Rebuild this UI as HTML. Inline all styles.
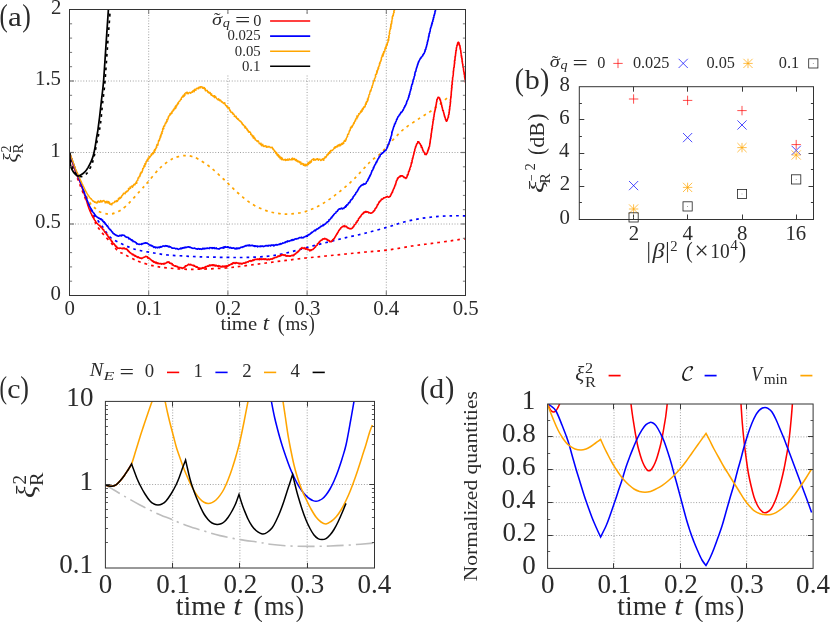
<!DOCTYPE html>
<html lang="en"><head><meta charset="utf-8"><title>Figure</title>
<style>html,body{margin:0;padding:0;background:#fff}svg{display:block;will-change:transform}</style>
</head><body>
<svg width="830" height="622" viewBox="0 0 830 622" font-family='"Liberation Serif", "DejaVu Serif", serif'>
<rect width="830" height="622" fill="#fff"/>
<defs>
<clipPath id="ca"><rect x="69.5" y="9.5" width="396.0" height="286.0"/></clipPath>
<clipPath id="cb"><rect x="579.3" y="86.7" width="234.2" height="132.8"/></clipPath>
<clipPath id="cc"><rect x="105.4" y="401.4" width="269.1" height="166.6"/></clipPath>
<clipPath id="cd"><rect x="547.6" y="404.0" width="265.5" height="164.4"/></clipPath>
</defs>
<line x1="148.7" y1="9.5" x2="148.7" y2="295.5" stroke="#a0a0a0" stroke-width="1" stroke-dasharray="1 1.75"/>
<line x1="227.9" y1="9.5" x2="227.9" y2="295.5" stroke="#a0a0a0" stroke-width="1" stroke-dasharray="1 1.75"/>
<line x1="307.1" y1="9.5" x2="307.1" y2="295.5" stroke="#a0a0a0" stroke-width="1" stroke-dasharray="1 1.75"/>
<line x1="386.3" y1="9.5" x2="386.3" y2="295.5" stroke="#a0a0a0" stroke-width="1" stroke-dasharray="1 1.75"/>
<line x1="69.5" y1="224.0" x2="465.5" y2="224.0" stroke="#a0a0a0" stroke-width="1" stroke-dasharray="1 1.75"/>
<line x1="69.5" y1="152.5" x2="465.5" y2="152.5" stroke="#a0a0a0" stroke-width="1" stroke-dasharray="1 1.75"/>
<line x1="69.5" y1="81.0" x2="465.5" y2="81.0" stroke="#a0a0a0" stroke-width="1" stroke-dasharray="1 1.75"/>
<rect x="200" y="13.8" width="180" height="60.2" fill="#fff"/>
<path d="M69.5 152.5C69.9 153.9 70.9 157.4 72.0 161.0C73.1 164.6 74.7 170.0 76.0 174.0C77.3 178.0 78.3 180.7 80.0 185.0C81.7 189.3 84.0 195.3 86.0 200.0C88.0 204.7 90.3 209.0 92.0 213.0C93.7 217.0 94.7 221.2 96.0 224.0C97.3 226.8 98.7 228.2 100.0 230.0C101.3 231.8 102.0 232.7 104.0 235.0C106.0 237.3 109.7 241.3 112.0 244.0C114.3 246.7 116.0 249.3 118.0 251.0C120.0 252.7 121.7 252.8 124.0 254.0C126.3 255.2 129.3 257.2 132.0 258.5C134.7 259.8 136.3 260.8 140.0 262.0C143.7 263.2 149.3 265.0 154.0 266.0C158.7 267.0 163.0 267.5 168.0 268.0C173.0 268.5 178.7 269.0 184.0 269.2C189.3 269.4 193.0 269.4 200.0 269.2C207.0 269.0 218.3 268.6 226.0 268.0C233.7 267.4 239.3 266.4 246.0 265.6C252.7 264.8 259.3 263.9 266.0 263.0C272.7 262.1 279.3 261.2 286.0 260.4C292.7 259.6 299.3 258.7 306.0 258.0C312.7 257.3 319.3 256.7 326.0 256.0C332.7 255.3 339.3 254.7 346.0 254.0C352.7 253.3 359.0 252.7 366.0 252.0C373.0 251.3 380.3 251.0 388.0 250.0C395.7 249.0 404.7 247.1 412.0 246.0C419.3 244.9 425.3 244.3 432.0 243.4C438.7 242.5 446.4 241.4 452.0 240.6C457.6 239.8 463.2 238.9 465.5 238.6" fill="none" stroke="#ff0000" stroke-width="1.7" stroke-linejoin="round" stroke-miterlimit="6" stroke-dasharray="2.7 4" clip-path="url(#ca)" />
<path d="M69.5 152.5C69.9 153.8 70.9 156.8 72.0 160.0C73.1 163.2 74.7 168.3 76.0 172.0C77.3 175.7 78.3 177.7 80.0 182.0C81.7 186.3 84.0 193.2 86.0 198.0C88.0 202.8 90.3 207.7 92.0 211.0C93.7 214.3 94.3 215.5 96.0 218.0C97.7 220.5 99.7 222.8 102.0 226.0C104.3 229.2 107.0 234.2 110.0 237.0C113.0 239.8 116.7 241.2 120.0 243.0C123.3 244.8 126.7 246.2 130.0 247.5C133.3 248.8 136.0 249.6 140.0 250.5C144.0 251.4 149.3 252.2 154.0 253.0C158.7 253.8 163.0 254.5 168.0 255.0C173.0 255.5 178.7 255.7 184.0 256.0C189.3 256.3 193.0 256.6 200.0 256.8C207.0 257.0 218.3 257.3 226.0 257.4C233.7 257.5 239.3 257.6 246.0 257.4C252.7 257.2 260.0 257.0 266.0 256.4C272.0 255.8 276.7 255.1 282.0 254.0C287.3 252.9 292.7 251.4 298.0 250.0C303.3 248.6 308.7 247.0 314.0 245.6C319.3 244.2 324.7 242.9 330.0 241.6C335.3 240.3 340.0 239.0 346.0 237.6C352.0 236.2 359.0 234.8 366.0 233.0C373.0 231.2 381.7 228.8 388.0 227.0C394.3 225.2 398.7 223.4 404.0 222.0C409.3 220.6 414.7 219.5 420.0 218.6C425.3 217.7 430.7 217.1 436.0 216.6C441.3 216.1 447.1 215.9 452.0 215.8C456.9 215.7 463.2 215.8 465.5 215.8" fill="none" stroke="#0000ff" stroke-width="1.7" stroke-linejoin="round" stroke-miterlimit="6" stroke-dasharray="2.7 4" clip-path="url(#ca)" />
<path d="M69.5 152.5C69.9 153.8 70.9 156.9 72.0 160.0C73.1 163.1 74.7 167.5 76.0 171.0C77.3 174.5 78.7 177.7 80.0 181.0C81.3 184.3 82.3 187.3 84.0 191.0C85.7 194.7 88.0 200.0 90.0 203.0C92.0 206.0 94.3 207.5 96.0 209.0C97.7 210.5 98.0 211.2 100.0 212.0C102.0 212.8 105.3 213.9 108.0 214.0C110.7 214.1 113.0 213.9 116.0 212.6C119.0 211.3 122.0 209.6 126.0 206.0C130.0 202.4 136.3 195.0 140.0 191.0C143.7 187.0 144.7 185.8 148.0 182.0C151.3 178.2 156.0 171.8 160.0 168.0C164.0 164.2 168.7 160.9 172.0 159.0C175.3 157.1 177.7 156.9 180.0 156.3C182.3 155.7 184.0 155.6 186.0 155.6C188.0 155.6 190.0 155.9 192.0 156.5C194.0 157.1 195.0 157.2 198.0 159.0C201.0 160.8 205.7 163.6 210.0 167.0C214.3 170.4 219.3 175.2 224.0 179.5C228.7 183.8 233.3 188.9 238.0 193.0C242.7 197.1 247.3 201.1 252.0 204.0C256.7 206.9 261.7 209.0 266.0 210.6C270.3 212.2 274.0 212.8 278.0 213.4C282.0 214.0 285.3 214.3 290.0 214.0C294.7 213.7 300.7 213.1 306.0 211.4C311.3 209.7 316.7 207.1 322.0 204.0C327.3 200.9 332.7 197.2 338.0 193.0C343.3 188.8 348.7 184.2 354.0 179.0C359.3 173.8 365.7 166.2 370.0 162.0C374.3 157.8 376.3 157.5 380.0 154.0C383.7 150.5 388.0 145.2 392.0 141.0C396.0 136.8 399.3 132.8 404.0 129.0C408.7 125.2 415.0 121.3 420.0 118.0C425.0 114.7 429.5 112.3 434.0 109.0C438.5 105.7 444.8 99.8 447.0 98.0" fill="none" stroke="#ffa500" stroke-width="1.7" stroke-linejoin="round" stroke-miterlimit="6" stroke-dasharray="2.7 4" clip-path="url(#ca)" />
<polyline points="69.5,152.5 69.6,152.8 69.7,152.9 69.7,153.4 69.8,153.6 70.0,154.0 70.1,154.4 70.2,154.8 70.3,155.4 70.4,155.8 70.6,156.1 70.7,156.8 70.8,157.1 71.1,157.8 71.2,158.4 71.4,159.0 71.5,159.5 71.7,160.0 71.9,160.3 72.0,160.9 72.2,161.4 72.3,161.7 72.4,162.1 72.5,162.6 72.6,163.1 72.8,163.5 72.9,164.0 73.1,164.2 73.2,164.8 73.4,165.2 73.5,165.5 73.6,166.1 73.7,166.4 73.9,167.1 74.0,167.5 74.2,167.8 74.3,168.4 74.6,168.7 74.7,169.1 74.8,169.6 75.0,170.3 75.1,170.7 75.2,170.9 75.4,171.3 75.5,171.8 75.7,172.1 75.8,172.7 76.0,173.1 76.2,173.4 76.4,173.9 76.6,174.4 76.7,174.8 77.0,175.2 77.1,175.6 77.2,175.9 77.5,176.3 77.6,176.5 77.8,177.0 77.9,177.4 78.2,177.6 78.3,178.1 78.5,178.5 78.7,179.0 78.9,179.2 79.1,180.0 79.3,180.3 79.6,180.8 79.8,181.3 80.0,182.0 80.1,182.3 80.3,182.5 80.4,183.1 80.5,183.3 80.7,183.7 80.8,184.1 81.0,184.4 81.1,184.9 81.3,185.4 81.4,185.7 81.5,186.3 81.8,186.7 81.8,187.0 82.0,187.5 82.2,188.1 82.3,188.4 82.6,189.0 82.7,189.3 82.8,189.8 83.0,190.2 83.1,190.8 83.3,191.2 83.5,191.6 83.6,192.3 83.9,192.8 84.0,193.2 84.2,193.5 84.3,194.1 84.5,194.5 84.6,194.9 84.7,195.2 84.9,195.7 85.1,196.1 85.2,196.7 85.4,197.2 85.5,197.5 85.6,197.9 85.7,198.2 85.9,198.6 86.0,199.1 86.2,199.5 86.3,200.1 86.5,200.6 86.6,200.9 86.8,201.6 86.9,202.0 87.1,202.5 87.3,202.7 87.4,203.4 87.4,203.6 87.6,204.1 87.7,204.5 87.9,204.8 87.9,205.3 88.1,205.7 88.3,206.3 88.3,206.6 88.5,206.9 88.6,207.4 88.8,207.7 88.9,208.1 89.0,208.6 89.2,208.9 89.3,209.3 89.5,209.8 89.7,210.1 89.9,210.6 90.0,211.0 90.2,211.5 90.4,211.9 90.6,212.2 90.8,212.8 90.9,213.1 91.2,213.7 91.5,214.0 91.7,214.6 91.8,214.9 92.0,215.5 92.3,215.9 92.6,216.3 92.8,216.7 92.9,217.1 93.2,217.4 93.5,217.8 93.6,218.2 94.0,218.6 94.1,219.2 94.3,219.6 94.6,220.0 94.9,220.3 95.1,220.5 95.4,221.0 95.6,221.2 95.8,221.8 95.9,221.9 96.3,222.6 96.6,222.8 97.0,223.3 97.4,223.6 97.7,223.9 98.0,224.3 98.3,224.6 98.7,224.9 99.0,225.1 99.4,225.5 99.7,225.8 100.0,226.1 100.5,226.0 100.5,226.9 101.2,227.0 101.3,227.5 101.5,227.4 101.9,228.1 102.2,228.1 102.6,229.1 102.7,229.2 103.1,229.7 103.4,229.5 103.6,229.6 103.9,230.3 104.1,230.7 104.4,231.5 104.6,232.0 105.1,232.0 105.3,232.7 105.7,232.8 105.9,233.3 106.3,233.4 106.5,234.3 106.7,233.9 106.9,234.8 107.3,235.4 107.6,235.0 107.6,235.4 107.9,236.2 108.4,236.8 108.5,237.2 108.8,237.1 109.2,237.2 109.2,238.3 109.6,238.2 109.9,238.9 110.0,239.0 110.4,239.5 110.6,240.0 111.1,240.1 111.2,240.2 111.4,241.1 111.6,241.7 112.1,241.3 112.4,241.9 112.6,242.6 112.7,242.9 113.1,243.3 113.2,243.7 113.9,244.0 114.0,243.8 114.4,244.4 114.8,245.2 115.1,245.0 115.4,245.9 115.6,246.5 116.1,246.1 116.6,246.4 116.7,247.3 117.1,247.4 117.4,247.5 117.6,247.5 117.8,248.2 118.6,248.3 119.2,248.3 119.5,248.4 120.2,248.0 120.5,248.2 121.1,248.2 121.4,248.3 122.0,248.7 122.4,248.8 122.8,248.2 123.3,248.0 124.0,248.6 124.2,248.1 124.8,248.8 125.5,249.0 126.0,248.6 126.3,248.9 126.6,249.5 126.8,249.4 127.3,249.4 127.7,250.6 128.1,250.4 128.2,250.9 128.6,251.6 129.0,251.3 129.4,251.8 129.7,252.4 129.8,252.7 130.5,252.8 130.8,253.1 131.1,253.5 131.4,253.7 132.1,253.9 132.4,254.7 132.9,254.1 133.3,254.9 133.4,254.8 134.0,254.8 134.5,255.9 134.9,256.1 135.5,255.6 136.0,256.3 136.5,256.7 136.9,256.5 137.4,257.3 137.8,257.0 138.2,257.3 138.4,257.0 138.8,257.3 139.2,257.8 139.8,257.9 140.0,258.1 140.6,258.1 141.4,258.1 141.7,258.6 142.4,258.0 142.7,258.0 143.2,257.5 143.4,257.4 144.1,257.2 144.5,257.1 144.8,256.9 145.3,256.6 145.6,256.4 146.1,256.8 146.8,256.5 147.3,257.0 147.6,256.9 147.8,257.4 148.0,258.2 148.4,257.6 148.9,257.9 149.3,258.4 149.5,258.4 150.1,259.0 150.5,259.5 150.9,259.6 151.1,259.9 151.7,260.6 151.9,260.3 152.5,261.5 152.8,260.8 153.0,261.2 153.5,261.3 153.8,262.2 154.6,261.9 155.1,262.3 155.4,263.0 156.0,262.2 156.2,263.0 156.9,262.6 157.1,263.5 157.6,263.1 158.1,263.6 158.8,263.2 159.2,263.8 159.7,263.7 160.2,263.6 160.4,263.5 161.0,263.9 161.2,263.6 161.7,264.1 162.1,263.9 162.6,263.7 163.3,263.5 163.7,264.1 164.2,263.3 164.4,263.9 164.9,263.8 165.4,263.2 165.8,263.3 165.9,262.9 166.3,262.7 167.1,262.2 167.3,262.0 167.6,262.4 168.2,261.8 168.9,262.5 169.3,262.0 169.5,263.1 169.9,262.9 170.4,263.4 170.8,263.6 171.2,263.3 171.5,263.4 172.2,263.7 172.3,264.9 172.9,265.1 173.3,264.9 173.8,265.6 174.4,265.7 174.9,266.2 175.1,266.1 175.6,265.8 176.1,266.5 176.6,266.3 177.0,266.8 177.6,266.6 177.9,267.2 178.3,267.4 179.0,267.4 179.5,267.7 179.8,267.6 180.5,267.7 180.7,267.5 181.1,267.6 181.8,268.2 182.1,268.5 182.6,268.4 183.0,267.7 183.7,268.0 184.1,267.3 184.4,267.0 184.9,267.2 185.1,266.9 185.4,265.8 186.1,265.8 186.4,265.9 186.7,265.8 187.2,265.2 187.6,265.3 188.2,264.6 188.4,264.4 188.9,264.1 189.3,264.7 190.1,264.9 190.6,264.8 190.7,264.2 191.1,264.6 191.6,264.9 192.0,265.3 192.4,265.2 193.1,265.7 193.3,265.4 194.0,265.3 194.2,266.1 194.8,265.9 195.0,266.2 195.7,266.6 196.2,267.1 196.7,266.5 196.8,266.7 197.4,267.2 197.7,267.6 198.1,267.6 198.6,268.3 199.1,267.9 199.4,268.2 200.1,268.5 200.7,268.7 200.9,268.0 201.5,268.7 201.8,268.6 202.3,268.0 202.5,267.6 203.2,268.3 203.7,267.7 204.1,268.0 204.6,267.5 204.9,267.2 205.2,266.7 205.8,267.3 206.2,266.6 206.5,266.5 207.1,266.4 207.7,265.9 207.9,266.1 208.3,266.3 208.9,266.2 209.3,265.1 209.7,265.5 210.1,265.1 210.6,265.6 210.8,265.3 211.4,265.0 212.2,265.5 212.5,264.7 213.0,264.7 213.2,265.4 213.6,264.9 214.4,265.7 214.6,265.2 215.0,265.1 215.5,266.0 215.9,265.4 216.5,265.4 217.1,266.1 217.7,266.1 218.2,265.6 218.4,266.6 218.8,266.0 219.5,266.0 219.9,265.9 220.3,266.8 220.7,266.8 221.2,267.0 221.8,266.7 222.1,266.1 222.8,266.3 223.0,266.9 223.7,266.2 224.2,266.7 224.5,266.2 225.0,267.0 225.4,266.1 225.9,266.0 226.3,266.7 226.6,265.9 227.4,266.5 227.8,265.6 228.0,266.1 228.5,265.7 228.9,264.8 229.3,265.3 230.0,264.9 230.3,264.6 230.7,264.4 231.3,263.8 231.6,264.3 232.2,263.4 232.6,263.9 232.7,263.1 233.1,262.8 233.8,263.0 234.1,262.6 234.3,263.3 235.2,263.4 235.6,262.9 236.2,262.5 236.6,262.9 236.9,263.1 237.4,263.1 237.9,262.9 238.3,263.3 239.0,263.7 239.4,263.7 239.5,263.9 239.9,263.0 240.6,263.6 240.9,263.6 241.3,263.9 241.7,263.4 242.2,263.8 242.8,263.3 243.2,263.3 243.8,262.9 244.5,263.2 244.5,263.2 245.0,263.2 245.4,262.3 245.8,262.9 246.2,262.7 246.8,262.1 247.0,262.1 247.5,261.8 248.1,262.1 248.5,261.3 248.9,261.3 249.5,260.9 249.8,261.0 250.3,260.5 250.9,261.3 251.4,260.9 252.0,260.9 252.5,260.4 252.8,259.9 253.3,260.1 253.6,260.5 253.9,259.7 254.7,260.0 254.9,259.3 255.5,259.2 256.2,259.3 256.5,259.4 257.1,259.4 257.6,259.5 258.0,258.9 258.7,259.5 258.8,259.2 259.5,259.7 259.7,258.6 260.3,259.0 260.9,259.4 261.1,259.0 261.6,259.4 261.9,258.9 262.4,259.1 262.9,259.4 263.6,259.1 263.9,258.8 264.5,259.4 265.0,258.9 265.7,259.4 265.9,258.9 266.3,259.7 266.6,259.4 267.3,259.2 267.7,259.8 268.1,259.6 268.4,259.0 269.0,259.3 269.3,259.8 269.6,259.8 270.3,259.1 270.8,259.3 271.1,258.9 271.8,259.0 272.3,259.2 272.8,258.3 273.0,258.5 273.3,258.2 273.8,258.5 274.2,257.7 274.7,257.8 275.3,257.4 275.8,257.2 276.3,257.4 276.6,257.3 277.1,256.9 277.7,256.7 278.1,255.9 278.8,256.5 279.1,256.1 279.5,256.2 280.1,255.3 280.6,255.9 280.8,255.8 281.3,254.9 281.7,254.9 282.1,255.1 282.5,254.9 283.4,254.8 283.8,255.3 284.2,255.0 284.8,255.4 285.0,254.8 285.6,255.4 285.8,255.9 286.4,255.7 286.8,256.1 287.1,255.6 287.4,256.1 288.2,255.8 288.6,256.1 288.9,256.2 289.5,255.9 289.8,256.1 290.3,256.2 290.7,255.8 291.1,255.8 291.7,255.4 292.0,255.7 292.5,255.6 293.0,255.0 293.6,255.7 294.1,255.0 294.3,254.3 294.6,254.3 295.3,253.8 295.6,253.9 295.8,253.3 296.4,252.9 296.6,252.9 296.8,252.2 297.5,252.5 297.7,252.2 297.8,251.7 298.5,250.9 298.7,251.3 299.0,250.7 299.3,250.2 299.7,249.7 300.1,249.7 300.6,248.9 300.9,248.6 301.4,248.1 301.6,248.2 302.0,247.5 302.3,248.1 302.8,248.2 303.3,248.4 303.9,248.3 304.2,247.7 304.7,248.6 305.3,248.2 305.5,249.2 306.1,248.8 306.6,248.6 307.0,249.3 307.4,249.0 307.7,249.7 308.5,249.4 308.6,249.5 309.4,250.0 309.7,250.8 310.2,250.2 310.7,249.9 310.9,250.6 311.3,249.8 311.9,249.9 312.5,249.5 312.8,249.5 313.2,249.2 313.6,248.8 313.8,248.5 314.4,248.1 314.5,247.8 314.8,247.3 315.4,247.2 315.7,246.6 315.8,245.9 316.2,245.7 316.6,245.3 317.0,245.3 317.2,245.0 317.4,244.3 317.6,243.5 318.1,243.6 318.2,243.6 318.7,243.0 319.0,242.1 319.5,241.8 319.6,242.3 319.8,241.4 320.3,240.8 320.8,240.7 320.8,240.5 321.2,240.3 322.0,240.2 322.1,239.6 322.6,239.1 323.0,238.7 323.4,238.8 323.8,239.1 324.2,239.1 324.7,238.3 325.4,238.9 325.8,239.1 326.2,238.9 326.7,239.6 327.2,239.3 327.3,240.2 328.1,240.1 328.5,240.6 328.8,240.8 329.3,240.6 329.6,241.6 330.0,241.5 330.5,241.5 331.1,241.8 331.5,241.5 331.5,241.1 331.8,240.8 332.3,240.9 332.5,240.1 332.7,239.8 333.2,239.5 333.7,239.4 333.8,238.8 334.0,238.7 334.6,237.9 334.8,237.4 334.9,237.0 335.1,237.0 335.5,236.7 335.5,236.4 335.9,235.6 336.2,235.2 336.3,234.7 336.7,234.6 337.0,233.6 337.3,233.8 337.4,233.6 337.4,233.0 337.9,232.0 338.0,232.4 338.2,231.9 338.7,231.1 338.7,230.4 339.3,230.2 339.3,229.9 339.8,229.3 339.7,229.7 340.1,228.8 340.7,228.4 340.6,228.7 340.9,227.7 341.5,227.4 341.9,227.1 342.0,226.7 342.5,226.7 342.8,226.4 343.1,226.6 343.8,226.3 344.1,225.6 344.3,225.7 344.7,226.6 345.4,226.7 345.7,226.1 346.1,226.3 346.8,226.7 347.0,227.6 347.4,227.8 347.9,227.8 348.2,228.3 348.7,228.1 349.3,228.7 349.6,228.5 350.1,228.5 350.7,228.9 350.9,228.8 351.1,228.7 351.6,228.6 351.8,228.2 352.2,228.3 352.5,228.0 352.9,227.0 353.1,227.3 353.5,226.4 353.8,226.4 354.1,225.5 354.4,224.8 354.7,224.8 355.0,224.5 355.3,224.3 355.4,224.2 355.6,223.8 355.9,223.3 356.2,222.3 356.5,222.7 356.9,222.3 357.2,221.1 357.2,220.8 357.6,220.8 357.8,220.7 358.2,220.2 358.4,219.7 358.3,219.7 358.6,218.5 359.2,218.3 359.4,217.7 359.5,217.9 359.7,217.3 360.3,216.6 360.5,216.8 360.8,216.4 361.1,215.3 361.1,215.5 361.7,214.8 361.8,214.4 362.1,214.4 362.4,214.2 362.7,213.8 363.3,213.6 363.4,212.6 363.7,213.0 364.2,212.2 364.6,212.4 364.9,211.8 365.6,212.2 365.9,211.4 366.6,212.1 367.0,211.9 367.7,212.0 367.9,211.8 368.4,212.4 368.9,212.9 369.5,212.6 370.0,213.0 370.5,213.1 371.0,213.2 371.6,212.9 372.1,212.8 372.4,212.4 372.5,212.5 372.9,212.0 373.0,211.7 373.4,211.8 373.5,211.0 373.8,211.4 374.2,210.6 374.5,210.3 375.0,209.9 374.9,209.2 375.4,208.4 375.8,208.3 375.9,208.1 376.3,207.6 376.6,207.3 376.7,206.4 377.0,206.3 377.2,205.8 377.3,205.0 377.6,204.6 378.1,204.7 378.1,204.3 378.5,203.2 378.8,202.9 379.1,202.4 379.0,202.1 379.5,202.3 379.6,201.3 379.8,201.5 379.8,201.4 380.6,200.9 380.9,200.2 381.4,199.5 381.5,199.0 381.8,199.5 382.1,199.2 382.6,199.1 383.1,198.7 383.6,197.8 383.7,197.9 384.2,197.9 384.8,197.8 385.2,197.6 385.5,197.2 386.1,197.3 386.3,196.8 386.9,196.6 387.4,196.4 387.8,196.9 388.0,197.0 388.6,197.3 389.2,196.8 389.7,196.8 389.9,196.3 390.3,196.2 390.5,195.4 390.5,195.3 390.7,195.1 391.1,194.8 391.2,193.9 391.6,193.8 391.6,193.3 391.9,192.9 392.1,192.1 392.5,192.3 392.6,191.2 392.6,191.1 393.1,190.6 393.0,190.2 393.4,189.3 393.6,188.9 393.8,188.7 394.2,187.6 394.2,188.0 394.4,187.3 394.7,186.3 394.8,186.4 394.9,185.6 395.1,185.0 395.2,184.6 395.6,184.7 395.6,184.1 395.7,183.4 395.8,183.2 396.2,182.6 396.1,182.2 396.2,181.5 396.6,180.5 396.8,180.9 397.0,179.9 397.3,179.5 397.5,179.2 397.3,179.4 397.5,178.3 397.9,177.9 398.0,178.4 398.5,177.3 399.0,177.3 399.4,176.7 399.7,176.3 400.4,176.6 400.5,175.8 401.0,176.3 401.4,175.7 402.1,175.7 402.6,176.0 403.1,176.6 403.3,176.9 403.8,176.7 404.1,177.6 404.8,177.5 405.3,177.7 405.6,177.7 405.9,178.4 406.2,177.5 406.4,177.7 406.6,177.7 406.7,177.3 407.1,176.8 407.2,175.6 407.3,175.7 407.4,174.7 407.9,175.0 408.1,174.4 408.2,173.9 408.4,173.1 408.5,172.0 408.5,171.9 408.8,171.3 409.1,171.4 409.2,171.3 409.1,170.8 409.6,169.8 409.4,169.9 409.9,169.4 409.8,168.8 409.9,168.0 410.1,168.0 410.1,167.7 410.3,167.3 410.5,166.7 410.9,166.4 410.9,165.7 410.9,165.3 411.0,165.0 411.3,163.7 411.5,163.5 411.3,163.0 411.4,162.6 411.8,162.9 411.9,162.3 412.1,161.7 412.0,160.8 412.0,160.6 412.1,160.4 412.3,159.8 412.5,159.4 412.4,158.5 412.7,158.1 412.8,158.4 412.8,157.9 413.0,157.4 413.1,156.8 413.3,155.8 413.3,155.7 413.4,155.3 413.7,155.0 413.8,153.8 413.9,153.9 414.1,152.8 413.9,153.3 414.1,152.5 414.3,151.8 414.3,151.5 414.7,151.0 414.7,150.3 414.8,150.2 414.9,150.1 414.7,149.8 415.0,148.8 415.2,148.0 415.3,148.2 415.6,147.7 415.6,146.5 415.8,146.4 416.1,145.8 416.3,145.7 416.3,145.5 416.4,144.9 416.6,144.0 417.0,143.9 417.3,143.2 417.7,143.1 417.7,141.9 418.3,142.0 418.2,141.7 418.8,141.8 419.1,142.6 419.4,143.0 420.0,143.7 420.3,144.1 420.3,144.5 420.7,144.8 420.8,145.4 420.9,145.9 421.4,145.6 421.3,147.1 421.4,147.4 421.8,147.1 422.1,147.5 422.4,148.3 422.6,149.3 422.5,149.3 422.7,150.1 422.9,149.9 423.2,151.1 423.5,151.0 423.8,151.7 424.0,152.4 424.2,152.5 424.7,152.8 424.7,153.9 425.1,154.4 425.6,154.3 425.6,154.2 426.1,154.5 426.1,154.2 426.3,154.6 426.5,154.0 426.8,153.6 427.0,153.1 427.1,153.0 427.6,152.3 427.5,152.1 427.7,150.7 428.1,150.8 428.1,149.8 428.4,149.5 428.3,150.0 428.6,149.4 428.4,149.1 428.7,147.9 428.9,148.4 428.8,147.5 429.2,147.0 429.1,147.0 429.3,146.8 429.6,146.1 429.6,145.0 429.7,144.8 429.8,144.3 429.8,143.3 430.2,142.9 429.9,143.1 430.1,142.5 430.1,141.5 430.2,141.8 430.2,141.5 430.3,141.1 430.3,140.2 430.4,139.5 430.6,139.2 430.7,138.6 430.6,138.3 430.9,137.6 430.8,137.9 430.9,136.8 431.2,136.2 430.9,135.6 431.1,136.0 431.1,134.9 431.3,134.2 431.1,134.3 431.2,133.7 431.3,133.3 431.6,132.7 431.5,132.3 431.7,131.3 431.6,131.1 431.7,130.6 431.9,130.1 432.0,129.7 431.8,129.0 431.9,128.7 432.2,128.5 432.1,128.5 432.4,127.9 432.2,127.0 432.3,126.4 432.4,125.9 432.4,126.0 432.6,125.2 432.6,124.9 432.8,123.9 432.9,123.9 432.8,123.9 433.0,122.8 432.8,122.5 433.0,122.0 432.9,121.7 433.1,121.4 433.3,120.5 433.4,120.2 433.2,119.6 433.3,119.3 433.7,119.4 433.6,118.2 433.6,117.8 433.7,117.8 433.6,117.2 433.8,117.0 434.1,116.3 434.0,115.8 434.1,115.6 434.0,115.0 434.3,114.2 434.2,114.3 434.4,113.2 434.4,113.0 434.6,112.3 434.6,111.7 434.8,111.6 434.7,111.1 434.9,111.0 435.2,109.7 435.2,109.4 435.1,109.5 435.5,108.9 435.4,108.7 435.5,107.9 435.6,107.7 435.8,106.7 435.6,106.5 435.8,106.0 436.0,106.1 436.0,105.4 436.1,104.7 436.3,104.0 436.4,103.9 436.3,102.9 436.5,102.6 436.6,101.8 436.8,101.6 436.7,101.5 436.9,100.9 436.8,100.5 436.8,99.9 437.2,99.5 437.0,99.8 437.3,98.9 437.6,98.5 437.7,98.1 437.8,97.8 438.1,97.3 438.3,97.2 438.7,97.2 439.0,97.8 439.5,97.8 439.8,99.2 439.7,98.8 440.1,99.9 439.9,100.0 440.4,99.9 440.4,100.3 440.6,101.0 440.6,101.2 440.8,102.4 440.9,102.5 440.9,103.1 441.4,103.9 441.4,104.3 441.2,104.3 441.7,105.2 441.8,105.6 441.8,106.0 442.0,106.1 441.8,106.4 441.9,106.9 442.3,107.4 442.3,107.7 442.4,108.6 442.7,109.5 442.6,109.3 442.7,110.5 443.1,110.7 443.3,110.5 443.4,111.3 443.5,111.9 443.6,112.2 443.6,112.6 443.9,113.2 443.8,113.5 444.0,113.9 444.2,114.9 444.4,115.4 444.4,116.1 444.8,116.3 444.6,116.4 445.1,117.7 445.2,117.9 445.3,118.0 445.5,119.3 445.5,119.4 445.9,119.8 445.8,119.7 446.1,120.8 446.3,120.5 446.4,121.1 446.4,121.3 446.6,120.9 446.7,121.2 447.3,120.1 447.2,119.7 447.5,119.4 447.7,118.6 447.9,118.0 448.1,117.8 448.1,117.7 448.2,116.8 448.5,117.0 448.4,116.3 448.5,115.7 448.4,115.5 448.8,114.5 449.0,114.2 449.1,114.0 448.9,112.7 449.2,113.1 449.2,112.4 449.2,112.2 449.3,111.9 449.2,111.5 449.5,110.8 449.2,110.0 449.5,109.8 449.7,109.6 449.6,108.7 449.6,108.8 449.8,108.5 449.6,107.7 450.0,106.8 449.7,106.4 450.0,106.0 450.1,106.0 450.2,104.7 450.2,105.0 450.2,104.5 450.3,103.8 450.4,103.2 450.2,102.4 450.6,101.9 450.4,101.9 450.6,101.3 450.5,100.6 450.4,99.9 450.5,99.8 450.7,98.9 450.8,98.5 450.7,98.0 450.8,97.7 451.0,97.5 451.0,97.2 450.8,97.1 450.9,96.3 451.1,96.4 451.1,95.0 451.1,95.4 451.3,94.4 451.0,93.8 451.3,93.3 451.4,92.9 451.4,92.9 451.2,92.2 451.4,91.5 451.4,91.4 451.6,90.6 451.4,90.3 451.6,89.8 451.7,89.1 451.6,88.8 451.5,88.3 451.7,87.8 451.9,87.9 452.0,86.7 451.8,86.9 451.7,85.6 451.8,85.9 452.0,84.9 451.9,85.0 452.3,84.3 452.3,83.8 452.1,83.0 452.1,82.5 452.2,81.9 452.1,82.3 452.5,81.8 452.4,81.0 452.5,80.9 452.4,80.2 452.6,80.0 452.6,78.7 452.6,79.2 452.6,78.4 452.6,77.6 452.9,77.0 452.8,77.0 452.9,76.7 453.1,75.8 453.1,75.8 453.1,75.2 453.2,74.9 453.3,73.9 453.3,73.9 453.3,73.6 453.3,72.8 453.4,72.4 453.3,72.0 453.3,71.4 453.5,71.1 453.7,71.0 453.5,70.5 453.7,69.6 453.6,69.5 453.7,68.5 453.8,68.0 453.8,67.6 454.0,67.3 454.1,67.4 454.2,66.4 454.2,66.3 454.3,65.4 454.1,65.3 454.4,64.4 454.4,63.6 454.5,63.9 454.7,62.6 454.6,62.8 454.5,62.1 454.5,61.2 454.5,60.8 454.9,60.6 455.0,60.4 454.8,59.8 455.1,59.1 455.0,58.2 455.1,57.9 455.0,57.7 455.3,56.8 455.1,56.6 455.4,56.3 455.4,56.1 455.5,55.2 455.6,54.9 455.5,54.0 455.5,54.2 455.8,53.3 455.7,52.7 455.8,52.7 455.9,52.7 455.7,52.5 455.8,52.1 456.1,51.0 455.9,50.6 456.3,50.5 456.4,49.8 456.3,49.1 456.4,48.1 456.5,48.0 456.5,47.4 456.7,47.2 456.8,46.5 456.9,46.2 457.0,45.5 456.9,45.2 457.1,45.7 457.2,45.1 457.6,44.5 457.6,43.2 457.9,42.7 458.2,42.3 458.4,42.8 458.5,42.3 458.9,42.6 459.1,43.3 459.3,43.7 459.3,43.9 459.3,45.3 459.6,45.1 460.0,45.9 459.9,46.6 460.0,46.3 459.9,47.1 460.2,47.0 460.1,47.7 460.1,48.5 460.4,48.3 460.4,49.2 460.3,49.5 460.7,50.1 460.7,50.4 460.9,51.4 460.8,51.3 460.8,51.9 461.0,52.7 461.0,53.2 461.0,53.5 461.2,53.7 461.3,54.9 461.4,55.3 461.2,55.4 461.3,56.1 461.5,56.3 461.7,56.2 461.5,57.3 461.8,57.3 461.6,57.4 461.9,58.5 461.8,58.9 462.1,58.7 462.1,60.1 462.2,60.5 462.1,60.7 462.1,61.4 462.4,61.5 462.2,61.7 462.4,63.0 462.5,63.4 462.5,63.3 462.6,63.8 462.9,64.4 462.8,65.2 462.9,65.9 463.1,66.3 463.0,66.3 463.1,67.4 463.4,67.4 463.3,67.4 463.5,68.4 463.4,68.4 463.5,69.5 463.5,69.5 463.7,70.3 463.6,70.4 463.8,71.6 463.9,71.4 463.9,72.1 464.2,72.7 464.4,73.3 464.1,73.5 464.3,74.6 464.5,75.2 464.5,75.1 464.7,75.9 464.5,76.3 464.8,77.3 464.7,77.3 464.7,78.1 465.0,78.1 464.9,79.2 465.2,79.0 465.3,80.0 465.3,80.0 465.5,80.5 465.4,81.4 465.5,80.9 465.3,81.2 465.3,82.1 465.5,82.0" fill="none" stroke="#ff0000" stroke-width="1.6" stroke-linejoin="round" clip-path="url(#ca)"/>
<polyline points="69.5,152.6 69.6,152.9 69.7,153.1 69.7,153.3 69.9,153.7 70.1,153.9 70.1,154.4 70.3,154.9 70.4,155.2 70.6,155.9 70.8,156.2 70.9,156.7 71.1,157.2 71.2,157.9 71.4,158.3 71.7,159.0 71.8,159.6 72.0,160.1 72.1,160.5 72.3,160.9 72.4,161.1 72.5,161.4 72.6,161.8 72.8,162.4 72.9,162.8 73.1,163.1 73.3,163.6 73.4,164.0 73.6,164.3 73.8,164.8 73.9,165.4 74.0,165.9 74.2,166.3 74.3,166.5 74.5,167.3 74.7,167.7 74.9,168.2 75.0,168.4 75.2,169.0 75.3,169.4 75.6,169.9 75.6,170.3 75.8,170.5 76.0,171.1 76.2,171.6 76.3,171.8 76.5,172.2 76.6,172.6 76.9,173.3 77.0,173.4 77.2,173.9 77.3,174.2 77.5,174.8 77.6,175.1 77.7,175.6 77.9,175.9 78.2,176.2 78.3,176.8 78.5,177.2 78.6,177.5 78.8,178.1 79.0,178.4 79.2,179.0 79.4,179.4 79.6,180.0 79.8,180.4 80.0,180.9 80.1,181.5 80.3,181.8 80.4,182.1 80.5,182.4 80.8,183.0 80.9,183.4 81.1,183.8 81.2,184.2 81.3,184.7 81.5,185.0 81.7,185.6 81.8,186.1 82.1,186.4 82.2,186.9 82.4,187.4 82.6,187.9 82.8,188.4 82.9,188.8 83.1,189.3 83.2,189.8 83.5,190.2 83.7,190.8 83.8,191.1 83.9,191.7 84.2,192.0 84.3,192.6 84.5,192.8 84.7,193.4 84.8,193.8 85.0,194.3 85.1,194.7 85.2,195.0 85.4,195.5 85.5,195.9 85.7,196.1 85.9,196.6 85.9,196.9 86.2,197.5 86.4,198.0 86.6,198.6 86.8,199.1 86.9,199.7 87.1,200.0 87.3,200.5 87.4,201.1 87.6,201.3 87.8,201.7 87.9,202.2 88.1,202.8 88.3,203.0 88.4,203.5 88.5,203.7 88.7,204.2 88.9,204.8 89.0,205.0 89.3,205.2 89.3,205.8 89.6,206.1 89.8,206.7 90.0,207.0 90.2,207.3 90.5,207.8 90.7,208.3 90.9,208.5 91.2,209.0 91.3,209.4 91.7,209.8 91.8,210.3 92.1,210.7 92.4,211.0 92.6,211.6 92.8,211.9 93.1,212.4 93.4,212.6 93.6,212.9 94.0,213.3 94.2,213.8 94.5,214.2 94.7,214.4 95.0,214.7 95.2,215.1 95.5,215.4 95.7,215.7 96.0,216.0 96.3,216.3 96.7,216.8 97.2,217.0 97.4,217.4 97.9,217.5 98.3,217.8 98.6,218.1 99.0,218.1 99.4,218.2 99.7,218.6 100.0,219.0 100.6,218.8 100.8,219.4 101.4,219.0 101.6,219.7 102.0,219.8 102.2,220.4 102.7,220.1 102.8,221.2 103.3,221.4 103.3,221.8 104.0,222.4 104.2,221.8 104.5,222.3 104.8,223.4 105.1,222.9 105.2,224.1 105.5,224.2 105.9,224.1 106.2,224.3 106.3,225.1 106.6,225.1 107.1,226.2 107.6,225.9 107.7,226.5 108.0,227.0 108.5,227.2 108.4,227.9 108.8,228.2 109.2,228.9 109.6,229.0 109.8,229.3 110.1,229.9 110.5,229.7 110.7,230.3 111.2,230.5 111.5,231.3 111.6,231.7 111.9,231.5 112.4,232.0 112.8,232.6 112.9,233.2 113.0,233.4 113.3,233.2 113.9,233.9 113.9,233.6 114.7,234.6 115.2,234.5 115.6,235.0 115.9,235.2 116.4,235.4 116.8,235.3 117.3,236.0 117.7,235.8 118.1,236.0 118.6,236.2 119.2,236.0 119.4,235.5 119.9,235.4 120.7,235.7 121.1,235.2 121.5,236.0 121.9,235.5 122.3,235.0 122.6,235.0 123.3,235.3 124.2,235.3 124.2,235.5 124.5,235.7 124.9,236.0 125.1,236.6 125.7,236.9 126.2,236.8 126.5,237.3 126.7,237.3 127.2,237.5 127.8,237.3 128.1,237.4 128.5,237.7 129.0,238.9 129.5,238.5 130.0,238.8 130.5,239.4 130.6,239.2 131.2,240.2 131.6,239.9 132.1,239.8 132.2,240.8 132.7,240.4 133.2,241.6 133.6,241.3 133.9,241.3 134.7,242.0 135.1,241.9 135.2,242.1 135.7,242.4 136.1,243.0 136.5,242.9 136.8,244.0 137.2,243.7 137.6,243.9 137.8,243.8 138.4,244.2 139.3,244.4 139.7,244.0 139.9,244.3 140.5,244.2 140.9,244.2 141.5,244.4 141.7,243.8 142.3,243.5 142.4,243.5 142.8,243.9 143.7,243.4 143.9,243.1 144.4,243.0 145.0,243.4 145.4,242.8 146.0,242.8 146.3,243.1 146.9,243.0 147.4,243.3 147.9,243.7 148.4,244.0 148.7,244.2 149.0,244.7 149.6,245.0 150.0,245.0 150.3,245.4 150.7,245.0 151.0,245.3 151.5,246.0 151.9,245.6 152.6,246.3 152.7,246.0 153.2,246.6 153.9,247.4 154.3,246.8 154.6,247.1 155.0,246.9 155.6,247.9 156.1,247.2 156.4,247.3 156.9,247.5 157.5,247.8 157.6,247.3 158.4,247.4 158.6,247.2 159.2,247.6 159.6,247.6 160.1,246.6 160.7,246.8 160.8,247.3 161.3,246.8 161.9,247.0 162.3,246.2 162.7,246.1 163.2,246.2 163.8,245.9 164.0,245.9 164.8,246.4 165.2,246.1 165.5,245.6 166.1,246.0 166.2,245.7 166.7,246.3 167.5,245.9 167.9,246.1 168.3,246.8 168.8,246.9 169.1,246.2 169.7,247.0 170.0,246.9 170.5,246.7 171.0,247.2 171.5,247.7 172.0,248.1 172.6,248.1 173.0,248.0 173.4,248.3 173.8,248.2 174.4,248.3 174.7,248.0 175.1,248.4 175.8,248.9 176.3,248.6 176.9,248.6 177.2,248.5 177.7,249.1 178.2,249.4 178.6,249.3 179.1,249.1 179.3,248.9 180.1,248.6 180.5,248.8 180.7,248.1 181.2,248.1 181.7,248.7 182.3,248.3 182.5,247.7 183.1,248.1 183.5,247.8 184.1,247.5 184.3,247.4 184.8,247.9 185.1,247.6 185.8,247.0 185.9,247.3 186.7,247.5 187.1,247.0 187.5,247.0 188.2,246.8 188.3,247.1 189.1,246.8 189.1,246.8 189.8,247.3 190.1,247.0 190.7,247.6 191.2,247.8 191.5,247.7 192.3,248.2 192.5,248.3 193.1,248.4 193.4,248.3 194.1,248.2 194.3,248.0 194.8,248.0 195.2,248.6 195.7,248.8 196.4,248.9 196.9,248.9 197.4,249.2 197.7,249.3 198.0,248.5 198.4,248.6 199.0,248.9 199.6,249.2 199.8,248.9 200.5,248.9 200.8,249.1 201.3,249.1 201.8,249.4 202.5,248.4 202.9,249.0 203.1,248.4 203.7,248.5 204.2,249.0 204.6,248.3 205.1,248.7 205.7,248.5 205.9,248.2 206.6,248.4 206.7,248.2 207.2,248.4 207.6,248.0 208.1,248.2 208.8,248.2 209.1,248.6 209.4,247.9 210.1,247.6 210.6,247.9 210.8,247.8 211.5,247.9 212.0,247.6 212.3,248.5 212.8,248.0 213.2,247.8 214.0,248.3 214.3,247.7 214.7,248.4 215.2,248.3 215.9,248.4 216.3,247.8 216.6,248.6 217.2,248.7 217.9,248.8 218.2,248.9 218.8,248.8 219.0,248.7 219.5,248.9 220.2,248.1 220.5,248.1 221.0,248.0 221.6,247.8 221.9,248.0 222.3,247.8 223.1,248.1 223.2,247.1 223.9,247.9 224.3,246.9 224.6,247.6 225.3,246.6 225.4,247.0 225.9,247.3 226.4,247.3 226.8,247.0 227.6,247.3 227.7,246.8 228.4,247.1 228.7,247.3 229.3,247.9 229.6,247.6 230.1,247.7 230.7,247.4 231.1,248.1 231.3,248.2 232.0,248.0 232.5,248.3 232.7,248.1 233.2,248.1 233.8,247.8 234.2,248.2 234.8,248.8 235.2,248.4 235.8,248.9 236.3,248.9 236.5,248.1 237.2,248.0 237.5,248.7 238.0,248.3 238.6,248.1 239.0,248.6 239.3,248.0 239.9,248.1 240.2,247.8 240.7,247.3 241.2,247.2 242.0,247.1 242.1,247.5 242.8,246.8 243.3,247.0 243.5,246.9 243.9,246.4 244.6,246.4 245.1,246.0 245.3,245.7 246.0,246.1 246.1,245.5 246.9,245.8 247.4,245.2 247.7,245.2 248.2,245.6 248.6,245.2 249.2,245.0 249.3,245.6 249.7,245.0 250.3,245.6 250.9,245.7 251.0,245.7 251.8,245.3 252.2,245.5 252.5,245.3 253.1,245.9 253.7,245.9 253.9,245.7 254.3,246.5 254.7,245.7 255.2,245.7 255.6,246.3 256.1,245.9 256.3,246.3 257.0,246.3 257.4,246.8 257.7,246.1 258.3,246.4 259.0,246.5 259.5,246.3 260.1,246.7 260.3,246.0 260.7,246.2 261.3,246.1 261.7,246.5 262.2,245.9 262.6,246.1 262.8,246.4 263.6,246.3 263.7,246.6 264.3,246.3 265.0,245.8 265.3,245.9 265.7,245.6 266.4,245.9 267.0,245.5 267.2,245.5 268.0,246.1 268.4,245.8 268.5,245.6 269.0,245.2 269.6,245.4 269.8,245.6 270.7,246.0 271.0,245.1 271.6,245.1 272.0,245.0 272.7,245.4 272.9,245.1 273.5,245.8 273.9,244.9 274.4,245.6 274.8,245.3 275.4,244.9 275.8,245.0 276.0,244.5 276.8,244.8 277.0,245.2 277.6,244.7 277.9,244.8 278.3,244.5 279.0,244.5 279.2,244.0 279.9,244.4 280.1,244.5 280.5,243.5 280.9,243.6 281.6,243.9 281.9,243.6 282.3,243.3 282.8,242.9 283.2,243.1 283.6,243.0 284.2,242.7 284.7,242.4 285.3,242.7 285.5,242.0 286.2,241.6 286.4,241.8 287.1,241.3 287.4,241.8 287.9,240.9 288.5,241.1 288.9,241.3 289.2,241.4 289.7,240.7 290.2,240.7 290.7,240.7 291.2,240.1 291.5,239.8 292.0,240.5 292.5,239.6 292.8,239.9 293.0,239.5 293.8,240.1 293.9,239.9 294.6,239.3 295.1,239.0 295.4,238.7 296.1,239.1 296.6,238.9 296.9,238.6 297.4,238.6 297.8,238.8 298.2,238.6 298.5,238.1 299.2,237.9 299.4,237.6 300.1,237.6 300.4,237.8 301.1,237.8 301.4,237.2 302.0,237.9 302.4,237.8 302.9,237.6 303.4,237.4 303.6,237.6 304.4,236.8 304.5,236.8 305.0,236.7 305.4,236.4 305.8,236.4 306.3,236.5 306.8,235.7 307.4,236.2 307.7,235.3 308.0,235.2 308.3,234.5 308.7,235.0 309.2,234.8 309.6,234.4 310.0,234.2 310.4,233.4 310.7,233.4 311.2,233.2 311.4,232.4 311.8,232.2 312.3,232.5 312.5,232.0 313.2,231.6 313.3,231.6 313.9,230.9 314.2,230.5 314.6,230.7 315.0,230.0 315.6,230.7 316.1,229.8 316.6,229.3 316.6,229.0 317.0,229.3 317.6,228.9 318.0,228.6 318.5,228.5 318.7,227.8 319.0,227.8 319.6,227.3 319.8,227.6 320.1,227.1 320.5,226.9 321.0,226.1 321.5,226.2 321.8,226.4 322.3,225.6 322.7,225.2 323.0,225.0 323.5,225.6 323.9,224.5 324.3,224.7 324.7,224.1 325.0,224.1 325.4,224.0 325.9,223.3 326.1,223.0 326.8,222.8 326.7,222.5 327.4,222.0 327.4,221.8 327.9,221.7 328.0,221.7 328.4,221.2 328.8,221.1 328.9,220.0 329.3,219.7 329.9,219.6 330.0,219.2 330.5,218.9 330.7,218.6 331.1,218.0 331.3,217.4 331.7,217.7 331.9,216.9 332.3,216.7 332.5,216.2 333.0,215.5 333.1,215.8 333.7,214.7 333.7,214.9 334.1,214.5 334.4,213.9 334.7,213.4 335.3,213.2 335.6,213.1 335.9,212.8 336.0,212.0 336.3,211.8 336.6,211.8 336.9,211.3 337.4,211.2 337.5,210.8 338.0,209.9 338.1,210.2 338.6,209.3 338.9,209.1 339.7,208.9 339.8,209.0 340.2,208.9 340.6,208.5 340.8,208.9 341.6,208.2 342.0,208.5 342.4,208.9 343.0,208.2 343.4,208.4 343.9,208.4 344.1,207.8 344.5,207.6 344.7,207.0 345.5,207.2 345.5,206.6 345.8,205.9 346.2,206.4 346.6,205.3 346.8,204.8 347.5,205.0 347.8,204.7 348.1,203.8 348.2,203.4 348.4,203.0 348.9,203.0 348.9,202.5 349.6,202.7 349.8,202.2 350.2,201.7 350.2,201.3 350.5,200.4 350.8,200.5 351.0,199.7 351.3,199.6 351.9,199.4 352.1,199.2 352.3,198.5 352.5,198.1 352.8,198.3 353.1,197.4 353.1,196.7 353.5,196.6 353.6,196.2 353.9,195.8 354.3,195.8 354.4,195.5 354.6,195.3 354.8,194.6 355.3,194.4 355.5,194.1 355.8,193.6 355.8,192.7 356.2,192.7 356.3,192.5 356.7,191.8 357.0,191.8 357.2,191.1 357.6,190.8 357.7,190.0 358.1,189.9 358.4,189.0 358.6,189.1 358.7,188.2 359.2,187.8 359.3,187.7 359.4,187.4 359.6,187.2 360.2,186.6 360.4,186.7 360.9,185.6 361.1,185.5 361.7,185.4 361.8,185.2 362.3,184.6 362.7,185.0 363.0,184.5 363.5,184.7 363.9,183.7 364.2,184.3 364.6,184.2 365.0,184.0 365.6,183.7 366.2,183.2 366.3,182.9 366.3,182.5 366.7,181.7 366.9,181.5 367.0,181.4 367.3,181.2 367.5,181.0 367.7,180.2 368.1,179.5 368.3,179.7 368.2,179.0 368.7,178.3 369.0,178.2 369.0,177.3 369.4,177.1 369.7,176.7 369.9,175.5 370.0,175.9 370.4,175.4 370.3,174.9 370.6,174.4 370.9,174.2 371.1,173.9 371.2,172.9 371.5,172.6 371.5,172.5 371.8,171.6 371.9,170.8 372.4,170.5 372.4,170.6 372.6,170.0 372.9,169.8 373.1,168.8 373.2,168.4 373.3,167.8 373.5,167.6 373.9,167.8 373.9,166.7 374.2,166.6 374.5,165.6 374.7,165.3 374.8,165.4 375.0,164.6 375.5,164.2 375.7,163.6 375.9,162.9 376.1,162.9 376.0,162.3 376.6,162.4 376.7,162.1 376.6,161.2 377.0,161.4 377.4,160.2 377.7,160.1 377.7,159.2 378.0,159.2 378.2,158.6 378.7,158.3 378.7,158.2 378.9,157.4 379.1,156.9 379.7,156.9 379.8,156.5 380.1,156.0 380.2,155.2 380.4,154.8 380.9,154.3 381.3,154.3 381.4,153.9 381.8,153.5 382.2,153.4 382.2,152.7 382.9,152.9 382.9,152.7 383.2,152.6 383.8,152.0 383.8,151.5 384.5,151.4 384.6,150.8 384.8,150.8 385.2,150.3 385.8,150.4 386.0,149.8 386.1,149.6 386.6,148.8 386.8,148.2 387.0,147.8 387.2,147.9 387.4,147.4 387.3,146.4 387.7,146.6 387.9,145.3 388.0,145.1 388.1,144.5 388.5,144.2 388.6,143.8 389.0,143.5 389.1,143.4 389.0,142.9 389.2,141.8 389.6,142.0 389.7,141.3 389.9,140.8 389.8,140.2 389.9,139.6 390.4,140.1 390.3,139.2 390.4,139.1 390.6,138.1 390.9,138.4 390.7,137.4 390.9,137.1 391.1,136.4 391.1,136.3 391.3,135.8 391.5,135.4 391.7,134.9 391.7,135.0 391.7,134.2 391.9,133.9 391.8,133.2 391.8,132.3 392.2,132.2 392.1,131.4 392.1,131.6 392.4,130.9 392.6,130.9 392.8,129.7 393.0,129.2 393.0,129.1 393.1,129.0 393.3,128.4 393.3,128.1 393.5,127.4 393.8,126.7 393.8,126.2 394.3,126.1 394.3,125.5 394.5,124.8 394.5,124.1 394.9,124.1 395.2,123.7 395.4,123.6 395.4,122.6 395.6,122.1 395.9,121.8 395.8,121.8 396.2,121.1 396.4,120.6 396.5,119.7 396.5,119.9 396.8,119.0 397.1,119.2 397.4,118.3 397.4,118.1 397.7,117.5 398.2,116.7 398.1,116.6 398.7,116.2 399.0,115.5 399.1,115.3 399.3,114.9 399.4,114.8 399.8,114.8 400.0,114.0 400.3,113.8 400.5,113.1 400.8,112.9 400.8,112.4 401.2,112.7 401.6,112.2 401.9,111.8 402.0,111.8 402.4,111.1 402.8,110.1 403.0,110.4 403.3,109.4 403.4,109.4 403.7,108.9 403.7,108.9 404.0,108.3 404.0,107.7 404.3,107.3 404.5,107.0 404.5,107.4 404.8,106.9 404.9,105.9 405.1,106.3 405.3,105.8 405.7,105.1 405.7,104.7 406.1,104.2 406.1,103.7 406.6,103.2 406.5,102.4 406.9,101.7 406.8,101.5 407.1,101.1 407.2,100.7 407.7,99.9 407.8,99.6 408.1,99.1 408.2,98.7 408.4,97.9 408.2,98.3 408.6,97.0 408.8,97.2 408.9,96.9 408.8,95.9 409.1,96.0 409.1,95.2 409.2,95.4 409.4,94.2 409.7,94.5 409.5,93.3 409.9,93.0 409.9,92.8 410.0,92.3 410.1,91.4 410.3,91.1 410.6,90.4 410.7,90.0 410.6,89.4 410.7,89.8 410.9,89.1 411.3,88.5 411.1,87.8 411.2,87.1 411.4,86.6 411.6,86.5 411.6,85.7 411.7,85.1 411.9,84.6 412.0,84.4 412.3,83.9 412.4,84.2 412.5,83.1 412.7,82.9 412.7,82.5 412.7,81.9 412.9,81.6 413.1,81.6 413.0,80.5 413.1,80.3 413.3,80.0 413.3,79.3 413.7,79.3 413.8,78.5 413.9,78.3 414.1,77.3 414.1,77.3 414.2,76.5 414.3,76.2 414.5,76.0 414.8,75.6 414.9,74.3 414.6,74.2 415.0,74.0 414.9,73.1 415.0,72.8 415.1,73.0 415.2,72.0 415.5,71.6 415.7,71.7 415.8,71.4 415.9,70.6 415.9,70.3 416.0,70.4 416.1,69.8 416.3,68.6 416.3,68.6 416.7,67.8 416.6,67.5 416.8,67.1 417.2,66.8 417.1,66.1 417.3,65.4 417.4,64.9 417.6,65.2 417.9,64.5 417.8,64.1 418.0,63.3 418.2,63.2 418.2,62.7 418.6,62.5 418.5,61.8 418.8,61.7 418.8,61.3 419.0,61.1 419.4,60.3 419.5,60.1 419.8,59.3 419.9,59.6 420.1,59.0 420.4,58.5 420.7,58.0 420.9,58.4 421.1,57.2 421.6,57.1 421.6,57.2 422.2,56.2 422.3,56.0 422.7,55.8 422.9,55.5 422.8,54.9 423.3,54.3 423.2,54.7 423.8,54.0 423.7,53.6 424.3,53.3 424.4,52.5 424.6,52.5 424.8,51.1 424.9,51.5 425.2,51.1 425.1,49.9 425.5,49.8 425.5,49.2 425.8,49.3 425.9,48.6 425.9,48.1 426.0,47.6 426.1,47.8 426.4,46.5 426.5,46.7 426.5,46.3 426.8,45.0 426.8,44.8 426.9,44.5 427.2,44.1 427.3,43.2 427.4,42.9 427.2,42.8 427.5,41.7 427.8,41.6 427.8,41.7 427.7,40.8 427.9,40.1 428.0,40.4 428.2,39.3 428.3,39.2 428.2,38.8 428.3,38.5 428.4,38.1 428.5,37.0 428.6,36.5 428.9,36.9 428.8,35.7 429.1,35.8 429.0,34.8 429.2,34.2 429.1,34.0 429.2,33.3 429.5,33.0 429.7,33.2 429.7,32.1 429.9,31.7 430.0,31.4 430.1,31.3 430.2,30.8 430.2,29.8 430.3,30.1 430.3,29.0 430.5,28.7 430.8,28.0 430.7,27.4 430.9,27.7 431.0,27.2 431.2,26.4 431.3,25.7 431.6,25.9 431.4,25.0 431.8,24.8 431.9,24.6 431.8,24.2 431.9,23.1 432.3,23.4 432.2,22.5 432.5,22.0 432.5,22.2 432.5,21.7 432.9,21.4 432.8,20.1 433.0,19.7 433.3,19.6 433.4,19.1 433.4,19.1 433.3,17.9 433.7,17.8 433.8,17.7 433.9,16.9 434.0,16.3 433.9,15.7 434.3,15.4 434.1,15.1 434.6,14.6 434.5,14.0 434.7,13.7 434.7,13.5 435.0,13.0 435.0,12.5 434.9,11.8 435.1,11.1 435.4,10.7 435.5,11.0 435.4,9.8 435.4,10.0 435.7,9.4 435.8,8.6 435.9,8.6 436.1,7.8 436.2,6.7 436.2,6.5 436.2,5.7 436.6,5.8 436.6,5.3 436.8,4.8 436.7,4.2 437.0,4.3 436.7,3.9 437.0,3.1 437.1,2.8" fill="none" stroke="#0000ff" stroke-width="1.6" stroke-linejoin="round" clip-path="url(#ca)"/>
<polyline points="69.5,152.3 69.6,152.4 69.7,152.9 69.7,153.2 69.8,153.4 69.9,153.5 70.1,154.3 70.2,154.3 70.5,155.1 70.6,155.2 70.9,155.4 71.0,156.0 71.0,156.3 71.2,157.2 71.4,157.6 71.7,157.9 71.8,158.2 71.9,158.8 72.2,159.3 72.2,159.7 72.3,159.8 72.5,160.4 72.5,160.7 72.7,161.3 72.9,161.3 73.1,161.5 73.1,162.3 73.2,162.5 73.3,163.0 73.6,163.4 73.8,163.6 73.9,164.2 74.0,164.5 74.2,165.2 74.3,165.5 74.3,165.9 74.6,166.5 74.8,166.4 74.8,167.1 74.9,167.4 75.1,167.5 75.2,168.3 75.3,168.4 75.6,169.2 75.6,169.3 75.9,169.9 76.1,170.2 76.1,170.4 76.3,171.1 76.6,171.0 76.6,171.5 76.8,172.0 77.0,172.3 77.0,172.7 77.3,173.2 77.6,173.7 77.7,174.0 77.9,174.0 78.1,174.8 78.3,175.2 78.3,175.3 78.4,175.8 78.6,175.8 78.8,176.3 79.0,176.6 79.0,177.0 79.2,177.5 79.4,178.1 79.7,178.1 79.8,178.5 80.0,178.8 80.3,179.7 80.3,179.8 80.4,179.9 80.7,180.4 81.0,180.7 80.9,181.6 81.2,181.4 81.4,181.7 81.6,182.7 81.8,182.9 81.9,183.1 82.0,183.7 82.3,184.1 82.4,184.1 82.7,184.9 82.9,185.2 83.0,185.5 83.1,185.7 83.3,185.8 83.4,186.3 83.6,186.9 83.9,187.1 84.1,187.8 84.3,187.8 84.3,188.1 84.5,188.5 84.8,189.3 85.0,189.4 85.2,190.0 85.2,190.3 85.6,190.7 85.8,190.9 85.8,191.5 86.1,191.9 86.4,192.0 86.5,192.7 86.7,192.5 86.8,192.9 87.1,193.6 87.1,194.0 87.5,194.2 87.6,194.4 87.7,194.4 88.1,195.1 88.3,195.7 88.5,196.0 88.9,196.0 89.0,196.4 89.3,197.0 89.6,197.2 89.8,197.8 90.2,197.9 90.5,198.5 90.7,198.8 91.0,198.8 91.3,198.7 91.5,199.1 91.6,199.7 91.7,199.7 92.6,200.3 92.6,200.5 93.1,201.4 93.1,201.2 93.5,200.9 94.3,201.6 94.4,202.3 95.0,201.8 95.1,202.0 95.4,202.5 95.8,202.2 96.2,203.0 96.8,202.8 97.4,201.5 97.6,202.8 98.3,201.0 98.0,201.6 98.4,201.1 98.8,201.9 99.8,202.3 99.7,201.8 100.6,200.5 101.2,202.1 101.0,202.0 101.6,201.0 102.4,201.7 102.2,200.9 102.9,200.8 103.1,200.9 104.0,200.4 104.2,201.4 104.2,201.3 105.1,201.8 105.1,202.9 106.1,202.9 106.0,201.4 106.4,202.4 107.0,201.1 107.5,202.8 108.3,201.5 108.1,203.0 108.8,202.8 108.8,201.7 109.7,202.7 109.5,204.0 110.3,204.0 110.2,204.2 110.6,204.5 111.3,203.7 111.9,205.0 112.2,203.2 112.7,203.3 112.7,203.0 113.0,202.9 113.5,202.9 114.3,202.6 114.4,202.0 114.7,201.4 115.0,201.1 115.8,201.9 115.7,201.4 116.7,200.4 116.9,200.9 116.9,201.5 117.1,200.6 117.6,201.3 117.6,200.7 118.2,200.1 118.3,199.2 118.3,198.4 118.6,199.4 119.1,197.9 119.3,199.0 120.3,198.4 120.1,197.2 120.4,197.4 120.5,197.1 120.9,197.9 121.8,196.7 121.5,197.3 121.8,195.7 121.9,195.5 122.6,195.4 122.6,195.1 122.8,194.3 123.2,194.3 123.4,193.2 123.9,193.3 124.5,193.7 124.9,193.6 125.2,193.8 125.2,192.3 126.0,191.7 126.1,192.4 125.8,192.5 126.9,191.7 127.0,191.8 126.9,190.9 127.5,191.2 128.0,190.9 128.2,190.7 128.5,190.0 128.4,188.3 128.7,188.7 128.9,189.4 129.6,188.7 129.9,188.6 130.0,187.0 130.7,188.2 130.8,187.4 131.3,186.2 131.7,186.3 131.4,186.2 132.3,185.9 132.6,187.3 132.7,185.8 133.0,186.2 133.5,185.8 133.7,184.5 133.5,184.8 134.3,184.8 134.4,184.0 134.2,184.3 135.0,184.9 135.4,183.7 135.6,183.6 136.0,182.2 136.5,182.1 136.7,183.4 136.0,182.2 136.9,183.0 136.7,181.2 136.7,182.3 136.8,181.2 136.9,180.8 137.8,179.6 137.9,180.1 138.1,180.1 137.7,180.1 138.1,177.9 137.9,178.5 138.5,177.8 138.4,177.4 138.8,178.1 138.7,177.5 139.6,175.8 139.9,176.6 140.0,175.3 139.8,175.1 140.5,175.1 140.2,174.4 140.3,173.2 140.3,174.4 140.7,174.2 140.9,172.4 141.3,171.9 141.3,173.1 142.0,172.4 141.9,172.2 142.4,171.1 142.4,169.7 142.6,170.2 142.8,170.2 142.6,168.5 143.3,168.3 143.1,168.4 143.2,168.8 143.9,167.4 143.8,167.1 144.0,166.9 143.8,166.0 144.1,167.1 144.5,165.3 145.0,166.5 144.9,164.3 144.8,163.8 145.2,163.4 145.3,163.4 145.7,164.3 146.1,162.9 146.0,162.8 146.1,162.0 146.0,161.5 147.0,160.9 146.8,161.6 147.2,160.4 146.9,160.1 147.2,160.2 147.8,160.8 147.9,158.8 147.3,159.9 148.2,159.2 148.1,158.0 148.3,159.3 149.0,158.6 149.4,156.9 149.0,156.4 149.6,157.2 150.2,157.1 150.2,157.0 150.2,156.3 150.1,156.6 150.5,156.7 151.1,155.1 151.0,154.7 151.6,155.4 151.4,153.8 152.0,154.7 152.2,153.8 152.6,153.1 152.6,153.7 153.4,153.8 153.7,153.0 153.4,152.1 154.4,152.4 154.0,150.7 154.3,151.9 154.4,150.7 154.7,151.8 154.5,149.6 154.8,150.1 155.2,149.3 155.5,150.1 155.4,148.7 156.0,148.5 156.0,148.0 155.7,148.7 155.9,148.8 156.3,146.8 156.2,146.9 156.8,147.6 156.5,146.0 156.7,146.8 156.9,144.5 157.0,144.8 157.8,145.4 157.9,145.2 158.2,143.4 157.8,144.3 158.4,142.0 158.5,142.3 158.4,141.8 158.4,140.7 158.7,141.1 159.4,140.2 159.5,140.0 159.2,140.9 159.7,139.7 159.2,139.4 159.6,140.0 159.6,138.4 160.3,137.3 160.0,138.5 160.5,136.5 160.0,136.1 160.9,136.1 160.9,137.1 160.6,135.3 161.3,135.6 160.8,135.4 161.0,134.1 160.9,134.7 161.8,134.0 161.9,132.4 161.4,132.9 162.2,133.5 161.8,131.7 162.0,131.8 162.5,130.8 162.5,131.6 162.7,131.3 162.6,130.0 162.5,129.7 163.0,128.8 162.6,129.9 162.8,128.1 162.8,128.6 163.2,129.1 163.9,128.6 163.5,126.3 163.6,126.8 164.3,126.3 164.0,125.8 164.5,126.0 164.8,126.0 164.9,124.1 165.2,124.1 165.2,123.9 165.5,123.2 165.3,123.0 165.3,124.0 165.9,122.5 165.9,123.6 166.2,121.6 166.6,122.2 166.9,120.7 166.7,121.8 167.2,121.6 166.7,120.0 166.9,119.4 167.8,119.9 167.9,119.1 168.0,119.0 167.7,119.3 168.4,117.6 168.3,118.3 168.1,117.5 168.3,116.8 168.6,117.2 169.1,116.0 168.8,115.9 169.6,115.2 169.6,114.8 170.2,115.1 169.8,113.9 170.3,114.5 170.7,113.3 170.5,114.3 170.9,113.1 171.0,114.2 171.2,113.1 171.5,112.4 172.1,113.3 171.9,111.3 172.5,111.0 172.1,112.1 172.7,111.6 172.9,111.4 173.2,109.6 173.1,110.0 173.8,110.4 173.6,109.5 174.1,108.9 174.2,108.1 174.7,109.1 174.6,107.8 175.5,108.5 175.2,106.3 176.1,107.8 176.0,105.5 176.6,105.8 176.8,106.0 177.0,104.6 177.2,104.4 177.1,105.4 177.7,103.7 177.4,103.8 177.9,103.4 177.8,102.8 178.6,103.8 178.3,102.8 179.1,101.3 179.4,101.1 179.5,101.6 179.8,100.8 179.9,101.0 180.1,100.8 180.4,99.9 180.3,99.9 181.0,98.8 181.4,99.5 181.4,97.9 181.7,97.4 181.7,97.7 181.9,97.4 182.5,96.2 182.8,96.0 183.1,97.1 183.2,95.3 183.4,95.7 184.0,94.9 184.1,96.4 184.2,95.8 184.0,95.9 184.4,95.6 185.0,93.7 185.1,95.1 184.6,93.7 185.8,92.7 186.4,92.6 186.8,92.1 186.9,93.7 186.9,92.3 187.5,92.4 187.4,92.2 187.9,93.8 188.7,93.6 188.6,93.3 189.0,92.7 189.9,92.3 190.5,92.6 190.6,93.2 190.7,93.4 191.6,92.0 192.3,91.5 192.7,92.0 192.5,92.2 192.9,90.8 193.5,90.3 194.0,90.5 194.2,91.8 194.5,90.9 194.6,89.3 194.8,89.4 195.7,89.7 195.9,90.4 196.0,88.8 196.8,88.2 196.6,88.7 197.1,88.5 197.6,88.7 198.3,87.7 198.7,88.0 198.6,88.8 199.1,86.9 199.4,87.7 200.4,87.9 200.4,86.6 200.4,87.3 201.3,86.7 201.7,86.9 202.3,87.6 202.1,88.0 202.3,87.4 202.9,87.0 203.0,88.4 203.3,88.1 204.4,87.5 204.1,88.8 204.7,89.2 205.3,88.5 205.2,89.0 205.3,90.6 206.2,90.5 205.9,91.0 206.8,90.4 207.2,90.7 207.0,90.2 207.3,90.4 207.7,92.2 208.3,92.6 208.7,91.7 208.8,92.3 209.3,92.8 209.2,93.3 210.1,92.7 210.3,92.5 210.2,93.2 210.9,94.9 211.2,93.8 211.7,94.0 211.5,95.4 212.2,95.2 212.5,96.0 212.7,95.9 213.3,96.2 213.5,96.2 214.1,95.6 214.0,96.5 214.2,97.3 214.6,95.6 214.9,97.8 215.4,96.4 215.5,96.4 216.3,97.9 216.7,98.4 216.5,98.3 217.1,99.1 217.8,99.5 217.6,99.7 218.6,100.1 218.3,98.8 218.7,98.7 219.6,100.6 219.8,100.9 220.1,100.1 220.0,99.9 220.9,100.4 220.9,101.1 221.0,101.0 221.5,102.1 221.9,101.5 222.8,102.2 223.0,102.6 222.7,102.4 223.3,103.4 223.6,103.5 224.1,102.8 224.7,102.7 225.0,103.2 224.6,103.5 225.6,105.4 225.3,104.7 226.0,105.6 226.0,105.3 226.4,106.3 226.6,106.8 226.9,105.6 227.5,106.5 227.2,107.1 227.5,107.8 228.2,108.1 228.4,107.5 228.5,108.0 229.1,107.7 229.4,107.9 229.0,108.7 229.9,109.6 229.7,110.7 229.8,110.1 230.3,111.1 230.7,111.2 230.6,110.8 230.7,112.2 231.4,112.3 231.3,112.0 232.1,112.6 231.8,112.7 232.7,112.5 232.4,113.0 233.1,114.4 232.9,113.3 233.3,113.9 233.8,113.9 233.9,114.3 234.7,115.7 234.2,116.5 234.5,115.6 235.5,116.7 235.6,116.3 235.5,117.0 235.7,116.4 236.2,116.3 236.5,118.2 237.0,117.9 237.2,118.1 237.1,118.6 237.6,119.2 238.3,118.8 238.3,119.8 238.5,119.0 239.1,120.6 239.4,120.5 239.7,120.8 239.9,120.6 239.9,121.3 240.0,121.1 240.9,122.0 241.0,121.4 241.1,122.1 241.6,122.3 241.9,123.7 241.8,123.4 242.5,123.1 242.5,124.6 242.4,124.0 242.7,124.8 243.6,124.6 243.2,125.0 243.8,125.6 244.0,125.7 244.6,125.8 244.5,127.0 244.6,126.7 245.0,127.2 245.0,128.0 245.5,126.4 245.7,127.4 245.7,127.8 246.4,128.7 246.6,128.2 246.8,129.5 247.6,129.3 247.2,130.2 247.6,129.3 247.6,130.7 248.5,130.7 248.4,130.9 248.5,132.1 248.8,131.7 249.5,132.4 249.4,131.6 249.7,131.6 250.2,132.4 250.5,132.5 250.4,132.8 250.7,133.0 250.6,134.5 251.1,133.8 251.4,134.6 251.7,135.3 252.2,135.0 252.7,136.4 252.2,136.6 253.2,136.9 252.9,137.3 253.6,135.9 253.3,138.1 254.1,137.0 253.9,137.0 254.3,138.7 254.7,137.7 255.5,139.3 255.2,139.9 255.9,139.9 256.2,140.5 256.6,140.7 256.4,140.7 257.0,141.1 257.3,141.7 257.7,140.7 257.7,140.8 258.3,140.9 258.6,141.4 258.9,142.4 259.2,143.5 259.1,143.7 259.8,143.4 260.3,144.2 260.3,143.6 261.1,143.1 261.1,144.5 260.8,144.7 261.7,145.5 261.6,145.8 262.0,145.0 262.8,144.3 263.1,145.8 263.2,146.5 263.6,145.9 264.2,146.6 264.3,146.0 264.8,146.3 265.5,145.8 265.8,146.0 265.9,145.8 266.3,147.3 266.8,147.0 266.9,146.1 267.2,146.8 267.9,147.3 267.8,147.2 268.9,146.9 268.5,146.5 268.9,146.3 270.0,147.2 270.2,147.7 270.8,147.4 270.9,147.6 271.4,147.7 271.8,147.1 272.1,147.9 272.5,147.4 272.3,147.5 273.0,149.6 273.2,148.7 273.6,149.9 273.6,149.1 273.7,149.8 274.0,150.1 274.5,151.5 274.3,151.1 274.5,150.5 275.4,151.8 275.8,151.9 275.3,152.1 276.0,153.6 276.6,153.0 276.4,152.6 276.9,153.1 276.7,153.0 276.9,154.7 277.3,155.6 277.5,155.8 277.8,154.3 278.6,155.1 278.9,155.4 278.6,156.9 279.5,157.4 279.8,156.1 280.0,157.8 280.1,158.5 280.2,158.9 280.9,157.1 280.7,158.7 281.6,157.7 281.5,159.3 281.7,159.8 282.4,158.2 282.6,159.4 283.1,159.8 283.2,160.1 283.8,159.8 284.4,159.4 284.6,160.1 285.5,160.1 285.6,159.1 285.6,160.5 286.5,160.2 286.6,159.7 287.6,160.1 287.7,159.0 287.9,160.2 288.3,159.8 288.9,160.2 289.5,158.9 289.2,158.8 290.0,159.4 290.7,159.9 290.5,159.8 291.5,159.8 291.7,158.5 292.4,159.6 292.6,159.8 292.7,158.0 293.3,159.5 293.4,159.5 294.4,158.4 294.5,159.5 294.7,158.6 294.9,159.9 295.7,159.5 295.5,160.5 296.4,159.5 296.6,161.1 297.2,160.6 297.2,161.0 297.3,160.4 297.6,161.7 298.1,161.7 298.5,161.8 298.7,161.0 299.8,161.9 299.4,162.7 300.3,161.9 300.5,162.6 300.9,162.1 300.9,164.4 301.9,163.6 302.1,163.3 302.7,163.9 303.2,164.8 303.5,165.4 303.4,163.7 303.7,164.1 304.0,163.9 304.7,165.7 305.0,165.9 305.8,164.1 305.9,164.7 305.9,165.7 306.4,164.7 307.1,165.3 307.5,163.9 307.7,163.1 308.4,164.6 308.2,162.3 308.6,162.7 309.5,163.6 309.8,161.5 310.1,162.7 310.3,163.0 310.2,161.0 311.1,162.4 311.4,160.8 311.6,161.5 311.6,160.3 312.0,159.6 312.6,159.4 312.7,159.2 313.4,158.7 313.8,158.9 313.6,160.3 314.2,160.2 315.1,160.1 314.9,159.1 315.3,160.2 316.3,159.6 316.4,159.0 317.2,159.4 317.4,158.7 317.5,158.6 318.3,159.7 318.3,160.4 318.8,159.4 319.1,159.1 320.1,159.2 320.0,159.6 320.6,160.5 320.8,160.6 321.2,160.4 322.1,159.0 322.4,159.1 322.6,158.8 323.1,160.4 324.0,160.1 323.7,158.6 324.6,157.9 324.8,158.2 325.3,157.3 325.4,157.7 325.1,156.7 326.0,157.5 325.7,157.0 326.5,156.2 326.5,155.7 326.4,156.7 327.1,155.2 326.9,154.6 327.6,155.1 327.5,154.2 328.1,154.9 328.5,154.4 328.3,153.0 329.0,153.4 329.2,152.4 329.5,152.6 329.8,153.4 329.7,151.4 330.3,152.0 330.6,151.3 330.3,152.2 330.7,150.5 331.0,151.1 331.0,150.6 331.6,150.3 331.7,150.5 332.5,150.5 332.4,150.0 332.8,149.8 332.8,149.9 333.9,148.8 333.9,148.7 334.2,147.4 334.9,147.6 334.6,147.1 335.0,148.4 335.2,146.7 336.1,146.7 335.9,147.3 336.7,146.9 337.1,145.8 337.6,146.9 337.3,145.4 338.0,146.0 338.2,145.0 338.6,144.8 339.1,146.1 339.1,145.3 339.9,144.2 340.4,145.7 340.4,144.4 341.1,144.4 341.1,145.1 341.7,143.6 341.6,143.4 342.1,144.5 342.8,144.1 343.1,143.8 342.8,142.8 343.8,143.4 343.5,142.1 344.1,141.7 344.3,140.8 344.5,141.4 344.4,140.3 345.4,141.3 345.6,140.7 345.7,140.9 345.9,138.8 345.9,138.9 346.1,138.6 346.2,139.6 346.5,137.8 346.6,137.8 347.1,137.1 346.8,137.5 346.8,137.0 347.7,136.4 347.3,135.9 347.7,134.9 347.5,134.5 347.8,134.8 348.0,134.0 348.0,134.3 348.8,134.1 348.7,133.8 348.6,133.5 348.9,132.8 349.2,132.2 349.1,131.3 349.2,131.5 349.5,131.2 349.4,130.4 350.3,129.7 350.2,129.9 350.1,130.5 350.3,129.7 350.4,127.8 351.1,128.2 350.6,127.8 351.1,128.1 351.1,126.7 352.0,127.4 351.5,126.2 351.8,126.5 352.3,126.6 352.6,125.5 352.8,125.6 353.0,124.7 353.2,124.9 353.5,123.3 353.7,122.7 353.8,123.6 353.8,124.0 354.0,122.6 354.4,123.2 354.5,121.8 354.6,121.6 355.0,120.9 354.9,121.1 355.1,120.3 355.6,121.0 355.6,119.8 355.5,119.1 355.7,119.3 356.3,118.0 356.8,118.1 356.9,118.8 357.2,117.1 357.0,118.2 356.8,116.0 357.5,116.6 358.0,116.8 357.9,117.0 358.0,115.6 358.4,115.0 358.3,115.1 358.5,115.5 359.0,114.3 358.7,113.7 359.2,113.7 359.6,114.0 360.2,112.9 360.0,112.8 360.7,111.9 360.6,112.6 360.5,111.3 361.4,112.1 361.3,110.3 361.8,111.2 362.0,111.5 362.3,110.0 362.0,109.4 362.5,109.5 362.5,108.5 363.0,109.1 363.0,109.6 363.5,107.4 363.5,108.6 363.6,108.2 363.6,107.0 364.5,107.3 364.6,106.2 364.6,106.6 364.7,106.5 365.1,106.8 365.4,105.2 365.2,104.2 366.0,103.7 365.7,103.3 366.1,104.4 366.4,104.1 366.0,102.1 366.7,102.4 366.8,102.2 366.5,101.7 366.6,102.7 367.1,101.2 367.1,101.0 366.9,101.7 367.5,101.5 367.5,100.4 367.4,98.9 368.1,100.2 367.8,99.9 368.3,98.3 368.3,99.3 368.3,98.9 368.2,97.3 368.8,96.5 368.6,97.5 368.9,96.9 368.8,95.1 369.1,94.7 369.7,94.5 369.6,93.6 369.7,93.7 369.7,92.6 369.7,93.7 370.0,92.2 370.0,91.9 370.1,91.1 370.6,91.4 370.3,91.8 370.3,90.5 371.1,89.9 370.9,91.0 371.3,89.2 371.1,90.0 371.2,90.1 371.2,89.7 371.6,87.8 371.7,87.2 372.0,87.1 372.3,87.3 372.0,86.2 372.3,85.7 372.7,85.1 372.5,85.6 372.5,85.7 372.7,85.0 373.0,83.9 373.0,83.0 372.9,84.2 373.2,83.4 373.2,82.7 373.5,82.2 373.6,80.9 373.7,80.8 373.7,81.4 374.0,80.3 374.6,80.7 374.8,80.5 374.3,78.9 374.3,79.3 375.0,78.2 374.9,78.5 375.2,77.3 375.5,77.1 375.4,76.4 375.1,77.6 375.8,76.8 375.3,75.0 375.5,75.0 375.7,75.1 375.6,74.6 376.3,73.8 376.6,74.2 376.6,73.1 376.6,73.5 376.6,71.7 377.2,72.9 376.9,70.9 377.5,71.7 376.9,70.5 377.1,71.3 377.3,71.1 377.9,69.0 378.0,69.3 378.2,69.8 377.9,67.9 378.6,68.2 378.7,68.4 378.6,68.3 378.7,67.2 378.3,67.4 378.7,66.6 379.3,65.4 379.2,64.9 379.3,66.2 379.1,65.3 379.8,65.1 379.5,63.9 379.3,63.8 379.7,63.1 379.7,62.6 380.2,63.4 379.9,62.1 380.3,62.1 380.8,61.5 380.4,62.2 380.4,61.2 380.7,61.3 381.0,60.8 380.8,60.2 381.3,59.4 381.6,59.8 381.2,58.3 381.5,57.8 381.4,57.5 381.7,58.0 382.0,56.4 382.1,56.8 382.2,55.8 382.1,55.1 383.0,56.3 382.4,55.8 383.3,55.1 382.7,54.6 383.1,53.6 383.3,52.9 383.8,53.8 383.7,54.0 383.9,52.2 383.6,51.6 383.6,52.6 384.4,51.2 384.0,51.6 384.7,51.8 384.3,51.2 385.0,50.7 384.7,49.2 385.2,49.2 385.0,49.3 385.1,49.6 385.2,47.6 385.6,48.5 385.9,48.4 386.1,48.6 385.9,47.3 385.8,46.5 386.3,45.7 386.5,45.6 386.4,46.9 386.3,44.6 386.7,44.5 387.1,43.7 387.3,45.1 387.4,43.8 387.1,43.8 387.5,42.9 387.5,42.4 387.9,42.7 388.2,40.8 387.8,40.9 388.1,40.4 387.9,39.5 388.1,40.0 388.7,40.6 388.7,40.4 388.8,39.3 388.8,37.7 388.8,38.5 388.5,38.0 389.2,37.5 389.0,36.7 388.8,37.5 388.6,35.7 389.2,35.8 388.8,35.8 389.1,35.2 389.3,34.7 389.5,34.0 389.2,33.1 389.9,33.4 389.3,33.7 389.5,31.6 389.8,31.5 389.9,31.7 389.7,31.3 389.7,30.7 390.2,29.4 390.1,28.9 390.2,30.1 390.4,29.4 390.7,27.7 390.9,28.5 390.3,28.3 390.6,26.5 391.1,26.9 391.1,25.5 391.1,25.0 390.7,25.2 390.6,25.3 390.9,24.2 391.4,24.1 391.6,24.1 391.6,23.6 391.8,23.8 391.2,23.2 391.4,22.9 391.8,22.7 391.4,21.3 391.9,22.2 392.0,20.0 392.0,19.8 392.0,20.9 391.7,20.9 392.3,18.9 392.0,18.8 392.6,18.5 392.1,16.8 392.3,18.0 392.4,17.0 392.6,16.8 392.8,15.2 393.3,15.7 393.3,15.8 393.6,13.8 393.2,13.7 393.4,14.8 393.8,12.7 393.3,14.0 393.8,12.7 393.8,11.9 394.2,12.1 394.3,12.2 393.7,11.3 393.9,12.2 394.3,10.1 394.0,10.5 394.3,10.6 394.4,9.8 394.1,10.0 394.5,8.5 394.7,10.0 394.5,7.7 395.1,7.5 394.9,7.4 395.0,7.1 395.3,7.4 395.8,5.1 395.5,6.2 395.9,5.8 395.7,5.1 395.6,4.0 396.0,4.9 396.2,4.1 395.7,4.0 396.2,3.2 396.1,2.7" fill="none" stroke="#ffa500" stroke-width="1.35" stroke-linejoin="round" clip-path="url(#ca)"/>
<path d="M69.7 152.6C69.7 153.5 69.8 156.1 69.9 158.0C70.0 159.9 69.9 162.1 70.2 164.0C70.5 165.9 71.1 167.6 71.8 169.2C72.5 170.8 73.5 172.2 74.5 173.3C75.5 174.4 76.6 175.7 77.6 176.0C78.6 176.3 79.5 175.6 80.7 174.9C81.9 174.2 83.7 173.0 84.9 171.8C86.1 170.6 87.0 169.3 88.0 167.6C89.0 165.8 90.3 163.3 91.2 161.3C92.1 159.3 92.7 157.8 93.3 155.6C93.9 153.4 94.4 151.0 94.9 148.2C95.4 145.4 95.9 141.9 96.4 138.8C96.9 135.7 97.5 133.0 98.0 129.4C98.5 125.8 99.0 121.9 99.6 117.0C100.2 112.1 100.8 106.0 101.5 100.0C102.2 94.0 102.8 90.2 103.6 81.0C104.3 71.8 105.2 56.9 106.0 45.0C106.8 33.1 107.9 17.0 108.4 9.5C108.9 2.0 108.9 1.6 109.0 0.0" fill="none" stroke="#000000" stroke-width="1.75" stroke-linejoin="round" stroke-miterlimit="6" clip-path="url(#ca)" />
<path d="M69.8 153.0C69.9 154.2 70.2 158.2 70.6 160.5C71.0 162.8 71.5 165.1 72.2 167.0C72.9 168.9 73.5 170.5 74.5 172.0C75.5 173.5 76.7 175.1 78.0 175.8C79.3 176.6 81.0 176.7 82.3 176.5C83.5 176.3 84.5 175.4 85.5 174.6C86.5 173.8 87.0 173.3 88.0 171.8C89.0 170.3 90.5 167.5 91.4 165.5C92.3 163.5 92.7 161.8 93.3 159.7C93.9 157.6 94.4 155.3 94.9 153.0C95.4 150.7 95.8 147.9 96.2 145.6C96.6 143.3 97.0 141.6 97.5 139.4C98.0 137.2 98.6 134.8 99.0 132.6C99.4 130.4 99.8 128.2 100.1 126.3C100.4 124.4 100.4 124.7 100.8 121.0C101.2 117.3 101.8 110.7 102.5 104.0C103.2 97.3 104.2 90.8 105.0 81.0C105.8 71.2 106.7 56.9 107.6 45.0C108.5 33.1 109.7 17.0 110.2 9.5C110.8 2.0 110.8 1.6 110.9 0.0" fill="none" stroke="#000000" stroke-width="1.7" stroke-linejoin="round" stroke-miterlimit="6" stroke-dasharray="2.7 4" clip-path="url(#ca)" />
<line x1="69.5" y1="281.2" x2="72.1" y2="281.2" stroke="#777" stroke-width="1"/>
<line x1="462.9" y1="281.2" x2="465.5" y2="281.2" stroke="#777" stroke-width="1"/>
<line x1="69.5" y1="266.9" x2="72.1" y2="266.9" stroke="#777" stroke-width="1"/>
<line x1="462.9" y1="266.9" x2="465.5" y2="266.9" stroke="#777" stroke-width="1"/>
<line x1="69.5" y1="252.6" x2="72.1" y2="252.6" stroke="#777" stroke-width="1"/>
<line x1="462.9" y1="252.6" x2="465.5" y2="252.6" stroke="#777" stroke-width="1"/>
<line x1="69.5" y1="238.3" x2="72.1" y2="238.3" stroke="#777" stroke-width="1"/>
<line x1="462.9" y1="238.3" x2="465.5" y2="238.3" stroke="#777" stroke-width="1"/>
<line x1="69.5" y1="224.0" x2="74.0" y2="224.0" stroke="#777" stroke-width="1.2"/>
<line x1="461.0" y1="224.0" x2="465.5" y2="224.0" stroke="#777" stroke-width="1.2"/>
<line x1="69.5" y1="209.7" x2="72.1" y2="209.7" stroke="#777" stroke-width="1"/>
<line x1="462.9" y1="209.7" x2="465.5" y2="209.7" stroke="#777" stroke-width="1"/>
<line x1="69.5" y1="195.4" x2="72.1" y2="195.4" stroke="#777" stroke-width="1"/>
<line x1="462.9" y1="195.4" x2="465.5" y2="195.4" stroke="#777" stroke-width="1"/>
<line x1="69.5" y1="181.1" x2="72.1" y2="181.1" stroke="#777" stroke-width="1"/>
<line x1="462.9" y1="181.1" x2="465.5" y2="181.1" stroke="#777" stroke-width="1"/>
<line x1="69.5" y1="166.8" x2="72.1" y2="166.8" stroke="#777" stroke-width="1"/>
<line x1="462.9" y1="166.8" x2="465.5" y2="166.8" stroke="#777" stroke-width="1"/>
<line x1="69.5" y1="152.5" x2="74.0" y2="152.5" stroke="#777" stroke-width="1.2"/>
<line x1="461.0" y1="152.5" x2="465.5" y2="152.5" stroke="#777" stroke-width="1.2"/>
<line x1="69.5" y1="138.2" x2="72.1" y2="138.2" stroke="#777" stroke-width="1"/>
<line x1="462.9" y1="138.2" x2="465.5" y2="138.2" stroke="#777" stroke-width="1"/>
<line x1="69.5" y1="123.9" x2="72.1" y2="123.9" stroke="#777" stroke-width="1"/>
<line x1="462.9" y1="123.9" x2="465.5" y2="123.9" stroke="#777" stroke-width="1"/>
<line x1="69.5" y1="109.6" x2="72.1" y2="109.6" stroke="#777" stroke-width="1"/>
<line x1="462.9" y1="109.6" x2="465.5" y2="109.6" stroke="#777" stroke-width="1"/>
<line x1="69.5" y1="95.3" x2="72.1" y2="95.3" stroke="#777" stroke-width="1"/>
<line x1="462.9" y1="95.3" x2="465.5" y2="95.3" stroke="#777" stroke-width="1"/>
<line x1="69.5" y1="81.0" x2="74.0" y2="81.0" stroke="#777" stroke-width="1.2"/>
<line x1="461.0" y1="81.0" x2="465.5" y2="81.0" stroke="#777" stroke-width="1.2"/>
<line x1="69.5" y1="66.7" x2="72.1" y2="66.7" stroke="#777" stroke-width="1"/>
<line x1="462.9" y1="66.7" x2="465.5" y2="66.7" stroke="#777" stroke-width="1"/>
<line x1="69.5" y1="52.4" x2="72.1" y2="52.4" stroke="#777" stroke-width="1"/>
<line x1="462.9" y1="52.4" x2="465.5" y2="52.4" stroke="#777" stroke-width="1"/>
<line x1="69.5" y1="38.1" x2="72.1" y2="38.1" stroke="#777" stroke-width="1"/>
<line x1="462.9" y1="38.1" x2="465.5" y2="38.1" stroke="#777" stroke-width="1"/>
<line x1="69.5" y1="23.8" x2="72.1" y2="23.8" stroke="#777" stroke-width="1"/>
<line x1="462.9" y1="23.8" x2="465.5" y2="23.8" stroke="#777" stroke-width="1"/>
<line x1="148.7" y1="291.0" x2="148.7" y2="295.5" stroke="#777" stroke-width="1"/>
<line x1="148.7" y1="9.5" x2="148.7" y2="14.0" stroke="#777" stroke-width="1"/>
<line x1="227.9" y1="291.0" x2="227.9" y2="295.5" stroke="#777" stroke-width="1"/>
<line x1="227.9" y1="9.5" x2="227.9" y2="14.0" stroke="#777" stroke-width="1"/>
<line x1="307.1" y1="291.0" x2="307.1" y2="295.5" stroke="#777" stroke-width="1"/>
<line x1="307.1" y1="9.5" x2="307.1" y2="14.0" stroke="#777" stroke-width="1"/>
<line x1="386.3" y1="291.0" x2="386.3" y2="295.5" stroke="#777" stroke-width="1"/>
<line x1="386.3" y1="9.5" x2="386.3" y2="14.0" stroke="#777" stroke-width="1"/>
<rect x="69.5" y="9.5" width="396.0" height="286.0" fill="none" stroke="#333" stroke-width="1"/>
<text x="50.94" y="13.70" font-size="20.80" fill="#2b2b2b">2</text>
<text x="35.03" y="85.20" font-size="20.80" fill="#2b2b2b">1.5</text>
<text x="50.22" y="156.70" font-size="20.80" fill="#2b2b2b">1</text>
<text x="35.03" y="228.20" font-size="20.80" fill="#2b2b2b">0.5</text>
<text x="50.58" y="299.70" font-size="20.80" fill="#2b2b2b">0</text>
<text x="64.50" y="314.60" font-size="20.80" fill="#2b2b2b">0</text>
<text x="136.13" y="314.60" font-size="20.80" fill="#2b2b2b">0.1</text>
<text x="215.28" y="314.60" font-size="20.80" fill="#2b2b2b">0.2</text>
<text x="294.33" y="314.60" font-size="20.80" fill="#2b2b2b">0.3</text>
<text x="373.27" y="314.60" font-size="20.80" fill="#2b2b2b">0.4</text>
<text x="452.73" y="314.60" font-size="20.80" fill="#2b2b2b">0.5</text>
<text transform="translate(220.39 330.20) scale(1.055 1.000)" font-size="19.60" fill="#2b2b2b">time</text>
<text transform="translate(262.76 330.20) scale(1.148 1.000)" font-size="20.00" font-style="italic" fill="#2b2b2b">t</text>
<text transform="translate(277.69 330.80) scale(0.924 1.000)" font-size="22.40" fill="#2b2b2b">(</text>
<text transform="translate(285.48 330.20) scale(0.976 1.000)" font-size="19.60" fill="#2b2b2b">ms</text>
<text transform="translate(308.83 330.80) scale(0.811 1.000)" font-size="22.40" fill="#2b2b2b">)</text>
<g transform="translate(17.80 161.70) rotate(-90)"><text transform="translate(-0.75 0.00) scale(1.049 1.000)" font-size="20.40" font-style="italic" fill="#2b2b2b">ξ</text><text transform="translate(9.30 -7.10) scale(1.012 1.000)" font-size="14.00" fill="#2b2b2b">2</text><text transform="translate(8.19 5.50) scale(1.060 1.000)" font-size="14.20" fill="#2b2b2b">R</text></g>
<text transform="translate(-0.46 26.00) scale(0.792 1.000)" font-size="31.40" fill="#2b2b2b">(</text>
<text transform="translate(8.01 25.50) scale(1.153 1.000)" font-size="27.00" fill="#2b2b2b">a</text>
<text transform="translate(22.17 26.00) scale(0.816 1.000)" font-size="31.40" fill="#2b2b2b">)</text>
<line x1="270.1" y1="21.0" x2="310.2" y2="21.0" stroke="#ff0000" stroke-width="1.6"/>
<text x="253.26" y="26.00" font-size="16.30" fill="#2b2b2b">0</text>
<line x1="270.1" y1="36.1" x2="310.2" y2="36.1" stroke="#0000ff" stroke-width="1.6"/>
<text x="227.39" y="40.40" font-size="14.80" fill="#2b2b2b">0.025</text>
<line x1="270.1" y1="51.2" x2="310.2" y2="51.2" stroke="#ffa500" stroke-width="1.6"/>
<text x="234.79" y="55.50" font-size="14.80" fill="#2b2b2b">0.05</text>
<line x1="270.1" y1="66.3" x2="310.2" y2="66.3" stroke="#000000" stroke-width="1.6"/>
<text x="241.90" y="70.60" font-size="14.80" fill="#2b2b2b">0.1</text>
<text transform="translate(212.09 24.90) scale(1.275 1.000)" font-size="16.00" font-style="italic" fill="#2b2b2b">σ</text><text transform="translate(214.05 24.40) scale(1.149 1.000)" font-size="17.00" fill="#2b2b2b">˜</text><text transform="translate(222.84 26.90) scale(1.133 1.000)" font-size="12.50" font-style="italic" fill="#2b2b2b">q</text><text transform="translate(234.95 27.20) scale(1.290 1.000)" font-size="21.00" fill="#2b2b2b">=</text>
<line x1="579.3" y1="202.5" x2="581.9" y2="202.5" stroke="#3a3a3a" stroke-width="1"/>
<line x1="810.9" y1="202.5" x2="813.5" y2="202.5" stroke="#3a3a3a" stroke-width="1"/>
<line x1="579.3" y1="186.5" x2="584.3" y2="186.5" stroke="#3a3a3a" stroke-width="1"/>
<line x1="808.5" y1="186.5" x2="813.5" y2="186.5" stroke="#3a3a3a" stroke-width="1"/>
<line x1="579.3" y1="169.5" x2="581.9" y2="169.5" stroke="#3a3a3a" stroke-width="1"/>
<line x1="810.9" y1="169.5" x2="813.5" y2="169.5" stroke="#3a3a3a" stroke-width="1"/>
<line x1="579.3" y1="153.5" x2="584.3" y2="153.5" stroke="#3a3a3a" stroke-width="1"/>
<line x1="808.5" y1="153.5" x2="813.5" y2="153.5" stroke="#3a3a3a" stroke-width="1"/>
<line x1="579.3" y1="136.5" x2="581.9" y2="136.5" stroke="#3a3a3a" stroke-width="1"/>
<line x1="810.9" y1="136.5" x2="813.5" y2="136.5" stroke="#3a3a3a" stroke-width="1"/>
<line x1="579.3" y1="119.5" x2="584.3" y2="119.5" stroke="#3a3a3a" stroke-width="1"/>
<line x1="808.5" y1="119.5" x2="813.5" y2="119.5" stroke="#3a3a3a" stroke-width="1"/>
<line x1="579.3" y1="103.5" x2="581.9" y2="103.5" stroke="#3a3a3a" stroke-width="1"/>
<line x1="810.9" y1="103.5" x2="813.5" y2="103.5" stroke="#3a3a3a" stroke-width="1"/>
<line x1="633.5" y1="214.5" x2="633.5" y2="219.5" stroke="#3a3a3a" stroke-width="1"/>
<line x1="633.5" y1="86.7" x2="633.5" y2="91.7" stroke="#3a3a3a" stroke-width="1"/>
<line x1="687.5" y1="214.5" x2="687.5" y2="219.5" stroke="#3a3a3a" stroke-width="1"/>
<line x1="687.5" y1="86.7" x2="687.5" y2="91.7" stroke="#3a3a3a" stroke-width="1"/>
<line x1="742.5" y1="214.5" x2="742.5" y2="219.5" stroke="#3a3a3a" stroke-width="1"/>
<line x1="742.5" y1="86.7" x2="742.5" y2="91.7" stroke="#3a3a3a" stroke-width="1"/>
<line x1="796.5" y1="214.5" x2="796.5" y2="219.5" stroke="#3a3a3a" stroke-width="1"/>
<line x1="796.5" y1="86.7" x2="796.5" y2="91.7" stroke="#3a3a3a" stroke-width="1"/>
<rect x="579.3" y="86.7" width="234.2" height="132.8" fill="none" stroke="#333" stroke-width="1"/>
<path d="M628.9 99.0H638.3M633.6 94.3V103.7" stroke="#ff0000" stroke-width="0.7" fill="none"/>
<path d="M629.0 181.0L638.2 190.2M629.0 190.2L638.2 181.0" stroke="#0000ff" stroke-width="0.7" fill="none"/>
<path d="M628.9 209.0H638.3M633.6 204.3V213.7" stroke="#ffa500" stroke-width="0.7" fill="none"/>
<path d="M629.0 204.4L638.2 213.6M629.0 213.6L638.2 204.4" stroke="#ffa500" stroke-width="0.7" fill="none"/>
<rect x="629.0" y="212.8" width="9.2" height="9.2" stroke="#222" stroke-width="0.8" fill="none"/>
<rect x="633.2" y="217.0" width="0.8" height="0.8" fill="#777"/>
<path d="M682.9 100.4H692.3M687.6 95.7V105.1" stroke="#ff0000" stroke-width="0.7" fill="none"/>
<path d="M683.0 133.0L692.2 142.2M683.0 142.2L692.2 133.0" stroke="#0000ff" stroke-width="0.7" fill="none"/>
<path d="M682.9 187.4H692.3M687.6 182.7V192.1" stroke="#ffa500" stroke-width="0.7" fill="none"/>
<path d="M683.0 182.8L692.2 192.0M683.0 192.0L692.2 182.8" stroke="#ffa500" stroke-width="0.7" fill="none"/>
<rect x="683.0" y="201.8" width="9.2" height="9.2" stroke="#222" stroke-width="0.8" fill="none"/>
<rect x="687.2" y="206.0" width="0.8" height="0.8" fill="#777"/>
<path d="M737.3 110.6H746.7M742.0 105.9V115.3" stroke="#ff0000" stroke-width="0.7" fill="none"/>
<path d="M737.4 120.4L746.6 129.6M737.4 129.6L746.6 120.4" stroke="#0000ff" stroke-width="0.7" fill="none"/>
<path d="M737.3 147.6H746.7M742.0 142.9V152.3" stroke="#ffa500" stroke-width="0.7" fill="none"/>
<path d="M737.4 143.0L746.6 152.2M737.4 152.2L746.6 143.0" stroke="#ffa500" stroke-width="0.7" fill="none"/>
<rect x="737.4" y="189.4" width="9.2" height="9.2" stroke="#222" stroke-width="0.8" fill="none"/>
<rect x="741.6" y="193.6" width="0.8" height="0.8" fill="#777"/>
<path d="M791.5 144.6H800.9M796.2 139.9V149.3" stroke="#ff0000" stroke-width="0.7" fill="none"/>
<path d="M791.6 145.8L800.8 155.0M791.6 155.0L800.8 145.8" stroke="#0000ff" stroke-width="0.7" fill="none"/>
<path d="M791.5 155.0H800.9M796.2 150.3V159.7" stroke="#ffa500" stroke-width="0.7" fill="none"/>
<path d="M791.6 150.4L800.8 159.6M791.6 159.6L800.8 150.4" stroke="#ffa500" stroke-width="0.7" fill="none"/>
<rect x="791.6" y="174.8" width="9.2" height="9.2" stroke="#222" stroke-width="0.8" fill="none"/>
<rect x="795.8" y="179.0" width="0.8" height="0.8" fill="#777"/>
<text x="559.38" y="223.50" font-size="20.80" fill="#2b2b2b">0</text>
<text x="559.74" y="190.30" font-size="20.80" fill="#2b2b2b">2</text>
<text x="558.91" y="157.10" font-size="20.80" fill="#2b2b2b">4</text>
<text x="559.22" y="123.90" font-size="20.80" fill="#2b2b2b">6</text>
<text x="559.38" y="90.70" font-size="20.80" fill="#2b2b2b">8</text>
<text x="628.73" y="239.60" font-size="20.80" fill="#2b2b2b">2</text>
<text x="682.55" y="239.60" font-size="20.80" fill="#2b2b2b">4</text>
<text x="737.00" y="239.60" font-size="20.80" fill="#2b2b2b">8</text>
<text x="785.40" y="239.60" font-size="20.80" fill="#2b2b2b">16</text>
<text transform="translate(514.83 89.90) scale(0.878 1.000)" font-size="31.40" fill="#2b2b2b">(</text>
<text transform="translate(524.80 89.40) scale(1.113 1.000)" font-size="27.00" fill="#2b2b2b">b</text>
<text transform="translate(539.89 89.90) scale(0.890 1.000)" font-size="31.40" fill="#2b2b2b">)</text>
<text transform="translate(549.69 67.30) scale(1.275 1.000)" font-size="16.00" font-style="italic" fill="#2b2b2b">σ</text><text transform="translate(551.65 66.80) scale(1.149 1.000)" font-size="17.00" fill="#2b2b2b">˜</text><text transform="translate(560.44 69.30) scale(1.133 1.000)" font-size="12.50" font-style="italic" fill="#2b2b2b">q</text><text transform="translate(572.55 69.60) scale(1.290 1.000)" font-size="21.00" fill="#2b2b2b">=</text>
<text x="597.36" y="68.00" font-size="16.30" fill="#2b2b2b">0</text>
<path d="M613.3 63.4H622.7M618.0 58.7V68.1" stroke="#ff0000" stroke-width="0.7" fill="none"/>
<text x="632.88" y="68.00" font-size="16.30" fill="#2b2b2b">0.025</text>
<path d="M678.6 58.8L687.8 68.0M678.6 68.0L687.8 58.8" stroke="#0000ff" stroke-width="0.7" fill="none"/>
<text x="706.43" y="68.00" font-size="16.30" fill="#2b2b2b">0.05</text>
<path d="M743.3 63.4H752.7M748.0 58.7V68.1" stroke="#ffa500" stroke-width="0.7" fill="none"/>
<path d="M743.4 58.8L752.6 68.0M743.4 68.0L752.6 58.8" stroke="#ffa500" stroke-width="0.7" fill="none"/>
<text x="778.85" y="68.00" font-size="16.30" fill="#2b2b2b">0.1</text>
<rect x="808.7" y="58.8" width="9.2" height="9.2" stroke="#222" stroke-width="0.8" fill="none"/>
<rect x="812.9" y="63.0" width="0.8" height="0.8" fill="#777"/>
<text transform="translate(646.45 257.60) scale(0.978 1.000)" font-size="22.50" fill="#2b2b2b">|</text><text transform="translate(652.56 257.60) scale(1.116 1.000)" font-size="21.50" font-style="italic" fill="#2b2b2b">β</text><text transform="translate(665.35 257.60) scale(0.978 1.000)" font-size="22.50" fill="#2b2b2b">|</text><text transform="translate(670.18 251.20) scale(1.078 1.000)" font-size="13.60" fill="#2b2b2b">2</text><text transform="translate(685.94 257.90) scale(0.894 1.000)" font-size="22.60" fill="#2b2b2b">(</text><text transform="translate(694.49 259.30) scale(1.007 1.000)" font-size="25.00" fill="#2b2b2b">×</text><text transform="translate(710.20 257.60) scale(0.971 1.000)" font-size="20.00" fill="#2b2b2b">10</text><text transform="translate(730.19 250.30) scale(1.123 1.000)" font-size="13.60" fill="#2b2b2b">4</text><text transform="translate(739.11 257.90) scale(0.945 1.000)" font-size="22.60" fill="#2b2b2b">)</text>
<g transform="translate(543.7 191.9) rotate(-90)"><text transform="translate(-0.98 0.00) scale(1.335 1.000)" font-size="21.00" font-style="italic" fill="#2b2b2b">ξ</text><text transform="translate(10.62 -7.30) scale(0.801 1.000)" font-size="14.50" fill="#2b2b2b">−</text><text transform="translate(21.28 -8.70) scale(1.047 1.000)" font-size="14.00" fill="#2b2b2b">2</text><text transform="translate(8.48 6.00) scale(1.072 1.000)" font-size="14.20" fill="#2b2b2b">R</text><text transform="translate(36.83 0.30) scale(0.911 1.000)" font-size="22.60" fill="#2b2b2b">(</text><text transform="translate(44.24 0.00) scale(1.090 1.000)" font-size="20.00" fill="#2b2b2b">dB</text><text transform="translate(71.11 0.30) scale(0.945 1.000)" font-size="22.60" fill="#2b2b2b">)</text></g>
<line x1="172.7" y1="401.4" x2="172.7" y2="568.0" stroke="#a0a0a0" stroke-width="1" stroke-dasharray="1 1.75"/>
<line x1="239.9" y1="401.4" x2="239.9" y2="568.0" stroke="#a0a0a0" stroke-width="1" stroke-dasharray="1 1.75"/>
<line x1="307.2" y1="401.4" x2="307.2" y2="568.0" stroke="#a0a0a0" stroke-width="1" stroke-dasharray="1 1.75"/>
<line x1="105.4" y1="484.5" x2="374.5" y2="484.5" stroke="#a0a0a0" stroke-width="1" stroke-dasharray="1 1.75"/>
<path d="M105.4 484.7C106.8 485.6 110.9 488.1 114.0 490.0C117.1 491.9 119.7 493.5 124.0 496.0C128.3 498.5 134.7 502.2 140.0 505.0C145.3 507.8 150.7 510.6 156.0 513.0C161.3 515.4 166.7 517.4 172.0 519.6C177.3 521.8 182.7 524.1 188.0 526.0C193.3 527.9 198.7 529.4 204.0 531.0C209.3 532.6 214.0 534.2 220.0 535.6C226.0 537.0 233.3 538.5 240.0 539.6C246.7 540.7 255.0 541.6 260.0 542.4C265.0 543.2 265.0 543.6 270.0 544.2C275.0 544.8 283.3 545.6 290.0 546.0C296.7 546.4 303.3 546.4 310.0 546.4C316.7 546.4 323.3 546.2 330.0 546.0C336.7 545.8 342.6 545.5 350.0 545.0C357.4 544.5 370.4 543.3 374.5 543.0" fill="none" stroke="#bdbdbd" stroke-width="1.6" stroke-linejoin="round" stroke-miterlimit="6" stroke-dasharray="17 5 2.2 5" clip-path="url(#cc)" />
<path d="M105.4 484.7C105.8 484.9 106.9 485.5 108.0 485.8C109.1 486.1 110.7 486.5 112.0 486.3C113.3 486.1 114.7 485.7 116.0 484.8C117.3 483.9 118.7 482.5 120.0 481.0C121.3 479.5 122.7 477.8 124.0 476.0C125.3 474.2 126.7 472.0 128.0 470.0C129.3 468.0 131.0 465.0 131.6 464.0" fill="none" stroke="#ff0000" stroke-width="1.5" stroke-linejoin="round" stroke-miterlimit="6" clip-path="url(#cc)" />
<path d="M270.3 395.0C270.5 396.1 270.7 397.7 271.4 401.4C272.1 405.1 273.4 412.1 274.5 417.0C275.6 421.9 276.8 426.3 278.0 431.0C279.2 435.7 280.7 440.7 282.0 445.0C283.3 449.3 284.7 453.2 286.0 457.0C287.3 460.8 288.7 464.7 290.0 468.0C291.3 471.3 292.7 474.2 294.0 477.0C295.3 479.8 296.7 482.5 298.0 484.8C299.3 487.1 300.7 489.2 302.0 491.0C303.3 492.8 304.7 494.3 306.0 495.6C307.3 496.9 308.8 498.2 310.0 499.0C311.2 499.8 312.0 500.2 313.0 500.6C314.0 501.0 315.0 501.3 316.0 501.3C317.0 501.3 318.0 501.0 319.0 500.6C320.0 500.2 320.8 499.9 322.0 499.0C323.2 498.1 324.7 496.7 326.0 495.0C327.3 493.3 328.7 491.3 330.0 489.0C331.3 486.7 332.7 484.0 334.0 481.0C335.3 478.0 336.7 474.7 338.0 471.0C339.3 467.3 340.7 463.3 342.0 459.0C343.3 454.7 344.7 450.8 346.0 445.0C347.3 439.2 348.7 431.3 350.0 424.0C351.3 416.7 353.2 406.2 354.0 401.4C354.8 396.6 354.8 396.1 355.0 395.0" fill="none" stroke="#0000ff" stroke-width="1.55" stroke-linejoin="round" stroke-miterlimit="6" clip-path="url(#cc)" />
<path d="M105.4 484.7C105.8 484.9 106.9 485.5 108.0 485.8C109.1 486.1 110.7 486.5 112.0 486.3C113.3 486.1 114.7 485.7 116.0 484.8C117.3 483.9 118.7 482.5 120.0 481.0C121.3 479.5 122.7 477.8 124.0 476.0C125.3 474.2 126.7 472.0 128.0 470.0C129.3 468.0 130.3 467.3 131.6 464.0C132.9 460.7 134.6 454.5 136.0 450.0C137.4 445.5 138.7 441.2 140.0 437.0C141.3 432.8 142.7 428.8 144.0 424.8C145.3 420.8 146.7 416.9 148.0 413.0C149.3 409.1 151.0 404.3 152.0 401.4C153.0 398.5 153.7 396.6 154.0 395.6M163.2 395.0C163.5 396.1 164.4 398.4 165.1 401.4C165.8 404.4 166.7 409.1 167.6 413.0C168.5 416.9 169.5 421.2 170.5 425.0C171.5 428.8 172.4 432.3 173.4 436.0C174.4 439.7 175.2 443.2 176.3 447.0C177.4 450.8 178.9 454.8 180.2 458.5C181.5 462.2 182.7 465.7 184.0 469.0C185.3 472.3 186.7 475.5 188.0 478.5C189.3 481.5 190.7 484.4 192.0 487.0C193.3 489.6 194.7 491.8 196.0 493.8C197.3 495.8 198.7 497.6 200.0 499.0C201.3 500.4 202.7 501.5 204.0 502.2C205.3 502.9 206.7 503.3 208.0 503.4C209.3 503.5 210.7 503.2 212.0 502.6C213.3 502.0 214.7 501.2 216.0 500.0C217.3 498.8 218.7 497.2 220.0 495.4C221.3 493.6 222.7 491.6 224.0 489.0C225.3 486.4 226.7 483.3 228.0 480.0C229.3 476.7 230.7 473.0 232.0 469.0C233.3 465.0 234.7 460.7 236.0 456.0C237.3 451.3 238.7 446.7 240.0 441.0C241.3 435.3 242.7 428.6 244.0 422.0C245.3 415.4 247.1 405.9 248.0 401.4C248.9 396.9 249.0 396.1 249.2 395.0M282.0 395.0C282.2 396.1 282.4 397.6 283.0 401.4C283.6 405.2 284.7 412.4 285.5 418.0C286.3 423.6 287.1 429.5 288.0 435.0C288.9 440.5 290.0 446.0 291.0 451.0C292.0 456.0 293.0 460.8 294.0 465.0C295.0 469.2 296.0 472.7 297.0 476.0C298.0 479.3 299.0 482.2 300.0 485.0C301.0 487.8 302.0 490.3 303.0 492.6C304.0 494.9 304.7 496.3 306.0 499.0C307.3 501.7 309.3 506.0 311.0 509.0C312.7 512.0 314.3 514.8 316.0 517.0C317.7 519.2 319.3 520.8 321.0 522.0C322.7 523.2 324.3 524.1 326.0 524.0C327.7 523.9 329.3 522.7 331.0 521.5C332.7 520.3 334.3 518.9 336.0 517.0C337.7 515.1 339.3 512.8 341.0 510.0C342.7 507.2 344.5 503.6 346.0 500.5C347.5 497.4 348.7 494.8 350.0 491.5C351.3 488.2 352.7 484.7 354.0 481.0C355.3 477.3 356.7 473.5 358.0 469.5C359.3 465.5 360.7 461.2 362.0 457.0C363.3 452.8 364.7 448.8 366.0 444.5C367.3 440.2 368.9 434.2 370.0 431.0C371.1 427.8 372.0 426.0 372.4 425.0" fill="none" stroke="#ffa500" stroke-width="1.55" stroke-linejoin="round" stroke-miterlimit="6" clip-path="url(#cc)" />
<path d="M105.4 484.7C105.8 484.9 106.9 485.5 108.0 485.8C109.1 486.1 110.7 486.5 112.0 486.3C113.3 486.1 114.7 485.7 116.0 484.8C117.3 483.9 118.7 482.5 120.0 481.0C121.3 479.5 122.7 477.8 124.0 476.0C125.3 474.2 126.7 472.0 128.0 470.0C129.3 468.0 131.0 465.0 131.6 464.0C132.0 465.1 133.1 468.1 134.0 470.5C134.9 472.9 136.0 476.1 137.0 478.5C138.0 480.9 138.7 482.4 140.0 485.0C141.3 487.6 143.3 491.3 145.0 494.0C146.7 496.7 148.5 499.3 150.0 501.0C151.5 502.7 152.7 503.3 154.0 504.0C155.3 504.7 156.7 505.0 158.0 505.0C159.3 505.0 160.7 504.7 162.0 504.0C163.3 503.3 164.5 502.7 166.0 501.0C167.5 499.3 169.3 496.7 171.0 494.0C172.7 491.3 174.7 487.7 176.0 485.0C177.3 482.3 178.0 480.6 179.0 478.0C180.0 475.4 180.9 472.5 182.0 469.5C183.1 466.5 185.0 461.6 185.6 460.0C185.9 461.4 186.8 465.3 187.5 468.5C188.2 471.7 189.1 475.7 190.0 479.0C190.9 482.3 192.0 485.6 193.0 488.5C194.0 491.4 194.8 493.6 196.0 496.5C197.2 499.4 198.7 503.1 200.0 506.0C201.3 508.9 202.7 511.8 204.0 514.0C205.3 516.2 206.7 518.0 208.0 519.5C209.3 521.0 210.5 522.2 212.0 523.0C213.5 523.8 215.5 524.3 217.0 524.4C218.5 524.5 219.8 524.2 221.0 523.8C222.2 523.4 222.8 523.0 224.0 522.0C225.2 521.0 226.7 519.3 228.0 517.5C229.3 515.7 230.8 513.2 232.0 511.0C233.2 508.8 234.3 506.8 235.5 504.0C236.7 501.2 238.4 496.0 239.0 494.4C239.4 495.8 240.7 500.0 241.5 502.5C242.3 505.0 242.9 506.8 244.0 509.5C245.1 512.2 246.7 516.2 248.0 519.0C249.3 521.8 250.7 524.1 252.0 526.0C253.3 527.9 254.7 529.3 256.0 530.5C257.3 531.7 258.8 532.6 260.0 533.2C261.2 533.8 261.8 534.1 263.0 534.0C264.2 533.9 265.5 533.5 267.0 532.5C268.5 531.5 270.5 529.9 272.0 528.0C273.5 526.1 274.7 523.7 276.0 521.0C277.3 518.3 278.7 515.3 280.0 512.0C281.3 508.7 282.7 504.9 284.0 501.0C285.3 497.1 286.9 491.8 288.0 488.5C289.1 485.2 289.7 483.4 290.5 481.0C291.3 478.6 292.2 475.5 292.6 474.4C293.0 476.1 294.1 480.9 295.0 484.5C295.9 488.1 296.8 491.9 298.0 496.0C299.2 500.1 300.7 505.0 302.0 509.0C303.3 513.0 304.7 516.8 306.0 520.0C307.3 523.2 308.7 526.0 310.0 528.5C311.3 531.0 312.7 533.3 314.0 535.0C315.3 536.7 316.7 537.8 318.0 538.6C319.3 539.4 320.7 539.6 322.0 539.6C323.3 539.6 324.7 539.4 326.0 538.6C327.3 537.8 328.7 536.5 330.0 535.0C331.3 533.5 332.7 531.7 334.0 529.5C335.3 527.3 336.7 524.8 338.0 522.0C339.3 519.2 340.7 516.1 342.0 513.0C343.3 509.9 345.3 505.0 346.0 503.4" fill="none" stroke="#000000" stroke-width="1.5" stroke-linejoin="miter" stroke-miterlimit="6" clip-path="url(#cc)" />
<line x1="105.4" y1="542.5" x2="108.0" y2="542.5" stroke="#5a5a5a" stroke-width="1"/>
<line x1="371.9" y1="542.5" x2="374.5" y2="542.5" stroke="#5a5a5a" stroke-width="1"/>
<line x1="105.4" y1="528.5" x2="108.0" y2="528.5" stroke="#5a5a5a" stroke-width="1"/>
<line x1="371.9" y1="528.5" x2="374.5" y2="528.5" stroke="#5a5a5a" stroke-width="1"/>
<line x1="105.4" y1="517.5" x2="108.0" y2="517.5" stroke="#5a5a5a" stroke-width="1"/>
<line x1="371.9" y1="517.5" x2="374.5" y2="517.5" stroke="#5a5a5a" stroke-width="1"/>
<line x1="105.4" y1="509.5" x2="108.0" y2="509.5" stroke="#5a5a5a" stroke-width="1"/>
<line x1="371.9" y1="509.5" x2="374.5" y2="509.5" stroke="#5a5a5a" stroke-width="1"/>
<line x1="105.4" y1="502.5" x2="108.0" y2="502.5" stroke="#5a5a5a" stroke-width="1"/>
<line x1="371.9" y1="502.5" x2="374.5" y2="502.5" stroke="#5a5a5a" stroke-width="1"/>
<line x1="105.4" y1="497.5" x2="108.0" y2="497.5" stroke="#5a5a5a" stroke-width="1"/>
<line x1="371.9" y1="497.5" x2="374.5" y2="497.5" stroke="#5a5a5a" stroke-width="1"/>
<line x1="105.4" y1="492.5" x2="108.0" y2="492.5" stroke="#5a5a5a" stroke-width="1"/>
<line x1="371.9" y1="492.5" x2="374.5" y2="492.5" stroke="#5a5a5a" stroke-width="1"/>
<line x1="105.4" y1="488.5" x2="108.0" y2="488.5" stroke="#5a5a5a" stroke-width="1"/>
<line x1="371.9" y1="488.5" x2="374.5" y2="488.5" stroke="#5a5a5a" stroke-width="1"/>
<line x1="105.4" y1="459.5" x2="108.0" y2="459.5" stroke="#5a5a5a" stroke-width="1"/>
<line x1="371.9" y1="459.5" x2="374.5" y2="459.5" stroke="#5a5a5a" stroke-width="1"/>
<line x1="105.4" y1="444.5" x2="108.0" y2="444.5" stroke="#5a5a5a" stroke-width="1"/>
<line x1="371.9" y1="444.5" x2="374.5" y2="444.5" stroke="#5a5a5a" stroke-width="1"/>
<line x1="105.4" y1="434.5" x2="108.0" y2="434.5" stroke="#5a5a5a" stroke-width="1"/>
<line x1="371.9" y1="434.5" x2="374.5" y2="434.5" stroke="#5a5a5a" stroke-width="1"/>
<line x1="105.4" y1="426.5" x2="108.0" y2="426.5" stroke="#5a5a5a" stroke-width="1"/>
<line x1="371.9" y1="426.5" x2="374.5" y2="426.5" stroke="#5a5a5a" stroke-width="1"/>
<line x1="105.4" y1="419.5" x2="108.0" y2="419.5" stroke="#5a5a5a" stroke-width="1"/>
<line x1="371.9" y1="419.5" x2="374.5" y2="419.5" stroke="#5a5a5a" stroke-width="1"/>
<line x1="105.4" y1="414.5" x2="108.0" y2="414.5" stroke="#5a5a5a" stroke-width="1"/>
<line x1="371.9" y1="414.5" x2="374.5" y2="414.5" stroke="#5a5a5a" stroke-width="1"/>
<line x1="105.4" y1="409.5" x2="108.0" y2="409.5" stroke="#5a5a5a" stroke-width="1"/>
<line x1="371.9" y1="409.5" x2="374.5" y2="409.5" stroke="#5a5a5a" stroke-width="1"/>
<line x1="105.4" y1="405.5" x2="108.0" y2="405.5" stroke="#5a5a5a" stroke-width="1"/>
<line x1="371.9" y1="405.5" x2="374.5" y2="405.5" stroke="#5a5a5a" stroke-width="1"/>
<line x1="105.4" y1="484.5" x2="110.6" y2="484.5" stroke="#3a3a3a" stroke-width="1"/>
<line x1="369.3" y1="484.5" x2="374.5" y2="484.5" stroke="#3a3a3a" stroke-width="1"/>
<line x1="172.5" y1="562.8" x2="172.5" y2="568.0" stroke="#3a3a3a" stroke-width="1"/>
<line x1="172.5" y1="401.4" x2="172.5" y2="406.6" stroke="#3a3a3a" stroke-width="1"/>
<line x1="239.5" y1="562.8" x2="239.5" y2="568.0" stroke="#3a3a3a" stroke-width="1"/>
<line x1="239.5" y1="401.4" x2="239.5" y2="406.6" stroke="#3a3a3a" stroke-width="1"/>
<line x1="307.5" y1="562.8" x2="307.5" y2="568.0" stroke="#3a3a3a" stroke-width="1"/>
<line x1="307.5" y1="401.4" x2="307.5" y2="406.6" stroke="#3a3a3a" stroke-width="1"/>
<rect x="105.4" y="401.4" width="269.1" height="166.6" fill="none" stroke="#333" stroke-width="1"/>
<text x="66.37" y="406.40" font-size="27.04" fill="#2b2b2b">10</text>
<text x="79.42" y="489.70" font-size="27.04" fill="#2b2b2b">1</text>
<text x="59.14" y="573.00" font-size="27.04" fill="#2b2b2b">0.1</text>
<text x="98.84" y="593.00" font-size="27.04" fill="#2b2b2b">0</text>
<text x="156.27" y="593.00" font-size="27.04" fill="#2b2b2b">0.1</text>
<text x="223.48" y="593.00" font-size="27.04" fill="#2b2b2b">0.2</text>
<text x="290.54" y="593.00" font-size="27.04" fill="#2b2b2b">0.3</text>
<text x="357.48" y="593.00" font-size="27.04" fill="#2b2b2b">0.4</text>
<text transform="translate(175.72 615.00) scale(1.055 1.000)" font-size="26.62" fill="#2b2b2b">time</text>
<text transform="translate(233.27 615.00) scale(1.148 1.000)" font-size="27.17" font-style="italic" fill="#2b2b2b">t</text>
<text transform="translate(253.55 615.81) scale(0.924 1.000)" font-size="30.43" fill="#2b2b2b">(</text>
<text transform="translate(264.13 615.00) scale(0.976 1.000)" font-size="26.62" fill="#2b2b2b">ms</text>
<text transform="translate(295.85 615.81) scale(0.811 1.000)" font-size="30.43" fill="#2b2b2b">)</text>
<g transform="translate(35.20 497.00) rotate(-90)"><text transform="translate(-1.01 0.00) scale(1.049 1.000)" font-size="27.54" font-style="italic" fill="#2b2b2b">ξ</text><text transform="translate(12.55 -9.59) scale(1.012 1.000)" font-size="18.90" fill="#2b2b2b">2</text><text transform="translate(11.05 7.43) scale(1.060 1.000)" font-size="19.17" fill="#2b2b2b">R</text></g>
<text transform="translate(-0.46 398.30) scale(0.717 1.000)" font-size="31.40" fill="#2b2b2b">(</text>
<text transform="translate(7.28 397.80) scale(1.106 1.000)" font-size="27.00" fill="#2b2b2b">c</text>
<text transform="translate(20.25 398.30) scale(0.829 1.000)" font-size="31.40" fill="#2b2b2b">)</text>
<text transform="translate(89.75 376.30) scale(1.114 1.000)" font-size="18.20" font-style="italic" fill="#2b2b2b">N</text><text transform="translate(103.42 379.50) scale(1.434 1.000)" font-size="12.40" font-style="italic" fill="#2b2b2b">E</text><text transform="translate(119.51 379.20) scale(1.229 1.000)" font-size="21.00" fill="#2b2b2b">=</text>
<text x="144.80" y="377.20" font-size="18.80" fill="#2b2b2b">0</text>
<line x1="167.0" y1="372.4" x2="179.2" y2="372.4" stroke="#ff0000" stroke-width="1.6"/>
<text x="193.44" y="377.20" font-size="18.80" fill="#2b2b2b">1</text>
<line x1="215.4" y1="372.4" x2="227.6" y2="372.4" stroke="#0000ff" stroke-width="1.6"/>
<text x="242.22" y="377.20" font-size="18.80" fill="#2b2b2b">2</text>
<line x1="264.0" y1="372.4" x2="276.2" y2="372.4" stroke="#ffa500" stroke-width="1.6"/>
<text x="290.55" y="377.20" font-size="18.80" fill="#2b2b2b">4</text>
<line x1="312.6" y1="372.4" x2="324.8" y2="372.4" stroke="#000000" stroke-width="1.6"/>
<line x1="614.0" y1="404.0" x2="614.0" y2="568.4" stroke="#a0a0a0" stroke-width="1" stroke-dasharray="1 1.75"/>
<line x1="680.4" y1="404.0" x2="680.4" y2="568.4" stroke="#a0a0a0" stroke-width="1" stroke-dasharray="1 1.75"/>
<line x1="746.7" y1="404.0" x2="746.7" y2="568.4" stroke="#a0a0a0" stroke-width="1" stroke-dasharray="1 1.75"/>
<line x1="547.6" y1="535.5" x2="813.1" y2="535.5" stroke="#a0a0a0" stroke-width="1" stroke-dasharray="1 1.75"/>
<line x1="547.6" y1="502.6" x2="813.1" y2="502.6" stroke="#a0a0a0" stroke-width="1" stroke-dasharray="1 1.75"/>
<line x1="547.6" y1="469.8" x2="813.1" y2="469.8" stroke="#a0a0a0" stroke-width="1" stroke-dasharray="1 1.75"/>
<line x1="547.6" y1="436.9" x2="813.1" y2="436.9" stroke="#a0a0a0" stroke-width="1" stroke-dasharray="1 1.75"/>
<path d="M547.6 404.0C547.9 404.7 548.9 406.8 549.5 408.0C550.1 409.2 550.8 410.3 551.5 411.0C552.2 411.7 552.9 412.0 553.6 412.0C554.3 412.0 555.0 411.7 555.7 411.0C556.4 410.3 557.1 409.2 557.7 408.0C558.4 406.8 559.1 405.2 559.6 404.0C560.1 402.8 560.4 401.5 560.5 401.0M630.5 398.0C630.6 399.0 630.7 401.3 631.0 404.0C631.3 406.7 631.8 410.5 632.3 414.0C632.8 417.5 633.4 421.2 634.0 425.0C634.6 428.8 635.3 433.3 636.0 437.0C636.7 440.7 637.2 443.8 638.0 447.0C638.8 450.2 639.7 453.3 640.5 456.0C641.3 458.7 642.2 461.2 643.0 463.0C643.8 464.8 644.3 465.9 645.0 467.0C645.7 468.1 646.3 469.2 647.0 469.8C647.7 470.4 648.3 470.8 649.0 470.8C649.7 470.8 650.3 470.4 651.0 469.8C651.7 469.2 652.3 468.1 653.0 467.0C653.7 465.9 654.2 464.8 655.0 463.0C655.8 461.2 656.7 458.7 657.5 456.0C658.3 453.3 659.2 450.0 660.0 447.0C660.8 444.0 661.3 441.3 662.0 438.0C662.7 434.7 663.4 430.7 664.0 427.0C664.6 423.3 665.3 419.8 665.8 416.0C666.3 412.2 666.9 407.0 667.2 404.0C667.5 401.0 667.7 399.0 667.8 398.0M740.6 398.0C740.7 399.0 740.7 399.8 741.0 404.0C741.3 408.2 741.8 416.8 742.3 423.0C742.8 429.2 743.4 435.3 744.0 441.0C744.6 446.7 745.3 452.0 746.0 457.0C746.7 462.0 747.2 466.2 748.0 471.0C748.8 475.8 750.0 481.2 751.0 485.5C752.0 489.8 753.0 493.8 754.0 497.0C755.0 500.2 756.0 502.4 757.0 504.5C758.0 506.6 759.1 508.2 760.0 509.4C760.9 510.6 761.7 511.2 762.5 511.8C763.3 512.4 764.2 512.8 765.0 512.8C765.8 512.8 766.5 512.6 767.5 512.0C768.5 511.4 769.8 510.6 771.0 509.0C772.2 507.4 773.3 505.2 774.5 502.5C775.7 499.8 776.9 496.4 778.0 493.0C779.1 489.6 780.0 486.0 781.0 482.0C782.0 478.0 783.2 472.9 784.0 469.0C784.8 465.1 785.3 462.2 786.0 458.5C786.7 454.8 787.4 451.1 788.0 447.0C788.6 442.9 789.2 438.3 789.7 434.0C790.2 429.7 790.5 426.0 791.0 421.0C791.5 416.0 792.1 407.8 792.4 404.0C792.7 400.2 792.8 399.0 792.9 398.0" fill="none" stroke="#ff0000" stroke-width="1.55" stroke-linejoin="round" stroke-miterlimit="6" clip-path="url(#cd)" />
<path d="M547.6 404.0C548.2 404.3 549.6 404.8 551.0 406.0C552.4 407.2 554.2 407.8 556.0 411.0C557.8 414.2 560.0 420.0 562.0 425.0C564.0 430.0 566.3 436.0 568.0 441.0C569.7 446.0 570.7 450.3 572.0 455.0C573.3 459.7 574.7 464.5 576.0 469.0C577.3 473.5 578.7 477.7 580.0 482.0C581.3 486.3 582.7 490.9 584.0 495.0C585.3 499.1 586.7 502.8 588.0 506.5C589.3 510.2 590.7 514.1 592.0 517.5C593.3 520.9 594.6 523.8 596.0 527.0C597.4 530.2 599.8 535.3 600.6 537.0C601.5 535.2 604.4 529.6 606.0 526.0C607.6 522.4 608.7 519.2 610.0 515.5C611.3 511.8 612.7 507.9 614.0 504.0C615.3 500.1 616.7 496.0 618.0 492.0C619.3 488.0 620.7 484.2 622.0 480.0C623.3 475.8 624.7 471.0 626.0 467.0C627.3 463.0 628.7 459.5 630.0 456.0C631.3 452.5 632.7 449.2 634.0 446.0C635.3 442.8 636.7 439.7 638.0 437.0C639.3 434.3 640.7 431.9 642.0 429.8C643.3 427.7 644.7 425.8 646.0 424.6C647.3 423.4 648.8 422.7 650.0 422.4C651.2 422.1 652.0 422.5 653.0 423.0C654.0 423.5 654.8 424.0 656.0 425.6C657.2 427.2 658.7 429.9 660.0 432.5C661.3 435.1 662.3 436.6 664.0 441.0C665.7 445.4 668.3 453.6 670.0 459.0C671.7 464.4 672.7 468.7 674.0 473.5C675.3 478.3 676.7 483.1 678.0 488.0C679.3 492.9 680.7 498.0 682.0 503.0C683.3 508.0 684.7 513.3 686.0 518.0C687.3 522.7 688.7 527.0 690.0 531.0C691.3 535.0 692.7 538.6 694.0 542.0C695.3 545.4 696.7 548.5 698.0 551.5C699.3 554.5 700.7 557.7 702.0 560.0C703.3 562.3 705.3 564.5 706.0 565.4C706.7 564.2 708.7 560.8 710.0 558.0C711.3 555.2 712.7 551.9 714.0 548.5C715.3 545.1 716.7 541.2 718.0 537.5C719.3 533.8 720.7 530.2 722.0 526.0C723.3 521.8 724.7 516.7 726.0 512.0C727.3 507.3 728.7 502.6 730.0 498.0C731.3 493.4 732.7 489.3 734.0 484.5C735.3 479.7 736.8 473.3 738.0 469.0C739.2 464.7 740.0 462.2 741.0 458.5C742.0 454.8 742.8 451.1 744.0 447.0C745.2 442.9 746.7 438.0 748.0 434.0C749.3 430.0 750.7 426.2 752.0 423.0C753.3 419.8 754.8 416.7 756.0 414.6C757.2 412.5 758.0 411.7 759.0 410.6C760.0 409.5 761.0 408.7 762.0 408.2C763.0 407.7 764.0 407.4 765.0 407.4C766.0 407.4 766.8 407.6 768.0 408.4C769.2 409.2 770.7 410.1 772.0 412.0C773.3 413.9 774.7 416.7 776.0 419.5C777.3 422.3 778.7 425.8 780.0 429.0C781.3 432.2 782.7 435.2 784.0 438.5C785.3 441.8 786.3 444.6 788.0 449.0C789.7 453.4 792.0 459.7 794.0 465.0C796.0 470.3 798.0 475.7 800.0 481.0C802.0 486.3 804.1 491.8 806.0 497.0C807.9 502.2 810.7 509.8 811.6 512.4" fill="none" stroke="#0000ff" stroke-width="1.55" stroke-linejoin="miter" stroke-miterlimit="6" clip-path="url(#cd)" />
<path d="M547.6 404.0C548.0 405.2 548.9 408.2 550.0 411.0C551.1 413.8 552.7 417.8 554.0 421.0C555.3 424.2 556.7 427.3 558.0 430.0C559.3 432.7 560.7 434.9 562.0 437.0C563.3 439.1 564.7 440.9 566.0 442.4C567.3 443.9 568.5 444.9 570.0 446.0C571.5 447.1 573.2 448.3 575.0 449.0C576.8 449.7 579.2 450.0 581.0 450.0C582.8 450.0 584.5 449.5 586.0 449.0C587.5 448.5 588.5 447.9 590.0 447.0C591.5 446.1 593.2 444.8 595.0 443.5C596.8 442.2 599.7 440.1 600.6 439.4C601.2 440.7 602.8 444.4 604.0 447.0C605.2 449.6 606.7 452.4 608.0 455.0C609.3 457.6 610.7 460.2 612.0 462.5C613.3 464.8 614.7 466.9 616.0 469.0C617.3 471.1 618.7 473.2 620.0 475.0C621.3 476.8 622.5 478.3 624.0 480.0C625.5 481.7 627.3 483.5 629.0 485.0C630.7 486.5 632.2 487.9 634.0 489.0C635.8 490.1 637.7 490.9 639.5 491.4C641.3 491.9 643.2 492.2 645.0 492.2C646.8 492.2 648.7 491.9 650.5 491.4C652.3 490.9 654.1 490.0 656.0 489.0C657.9 488.0 660.0 486.9 662.0 485.6C664.0 484.3 666.0 482.7 668.0 481.0C670.0 479.3 672.0 477.5 674.0 475.5C676.0 473.5 678.0 471.3 680.0 469.0C682.0 466.7 684.0 464.2 686.0 461.5C688.0 458.8 690.0 455.8 692.0 453.0C694.0 450.2 695.7 447.8 698.0 444.5C700.3 441.2 704.7 435.2 706.0 433.4C706.7 434.7 708.7 438.4 710.0 441.0C711.3 443.6 712.5 446.2 714.0 449.0C715.5 451.8 717.3 455.0 719.0 458.0C720.7 461.0 722.3 464.2 724.0 467.0C725.7 469.8 727.3 472.3 729.0 475.0C730.7 477.7 732.3 480.3 734.0 483.0C735.7 485.7 737.3 488.3 739.0 491.0C740.7 493.7 742.3 496.6 744.0 499.0C745.7 501.4 747.3 503.7 749.0 505.6C750.7 507.5 752.2 509.2 754.0 510.6C755.8 512.0 758.0 513.1 760.0 513.8C762.0 514.5 764.2 514.7 766.0 514.8C767.8 514.9 769.3 514.8 771.0 514.4C772.7 514.0 774.2 513.6 776.0 512.6C777.8 511.6 780.0 510.1 782.0 508.5C784.0 506.9 786.0 505.2 788.0 503.0C790.0 500.8 792.0 498.2 794.0 495.5C796.0 492.8 798.0 489.9 800.0 487.0C802.0 484.1 804.1 481.0 806.0 478.0C807.9 475.0 810.7 470.5 811.6 469.0" fill="none" stroke="#ffa500" stroke-width="1.55" stroke-linejoin="miter" stroke-miterlimit="6" clip-path="url(#cd)" />
<line x1="547.6" y1="551.5" x2="550.2" y2="551.5" stroke="#5a5a5a" stroke-width="1"/>
<line x1="810.5" y1="551.5" x2="813.1" y2="551.5" stroke="#5a5a5a" stroke-width="1"/>
<line x1="547.6" y1="535.5" x2="552.8" y2="535.5" stroke="#3a3a3a" stroke-width="1"/>
<line x1="807.9" y1="535.5" x2="813.1" y2="535.5" stroke="#3a3a3a" stroke-width="1"/>
<line x1="547.6" y1="519.5" x2="550.2" y2="519.5" stroke="#5a5a5a" stroke-width="1"/>
<line x1="810.5" y1="519.5" x2="813.1" y2="519.5" stroke="#5a5a5a" stroke-width="1"/>
<line x1="547.6" y1="502.5" x2="552.8" y2="502.5" stroke="#3a3a3a" stroke-width="1"/>
<line x1="807.9" y1="502.5" x2="813.1" y2="502.5" stroke="#3a3a3a" stroke-width="1"/>
<line x1="547.6" y1="486.5" x2="550.2" y2="486.5" stroke="#5a5a5a" stroke-width="1"/>
<line x1="810.5" y1="486.5" x2="813.1" y2="486.5" stroke="#5a5a5a" stroke-width="1"/>
<line x1="547.6" y1="469.5" x2="552.8" y2="469.5" stroke="#3a3a3a" stroke-width="1"/>
<line x1="807.9" y1="469.5" x2="813.1" y2="469.5" stroke="#3a3a3a" stroke-width="1"/>
<line x1="547.6" y1="453.5" x2="550.2" y2="453.5" stroke="#5a5a5a" stroke-width="1"/>
<line x1="810.5" y1="453.5" x2="813.1" y2="453.5" stroke="#5a5a5a" stroke-width="1"/>
<line x1="547.6" y1="436.5" x2="552.8" y2="436.5" stroke="#3a3a3a" stroke-width="1"/>
<line x1="807.9" y1="436.5" x2="813.1" y2="436.5" stroke="#3a3a3a" stroke-width="1"/>
<line x1="547.6" y1="420.5" x2="550.2" y2="420.5" stroke="#5a5a5a" stroke-width="1"/>
<line x1="810.5" y1="420.5" x2="813.1" y2="420.5" stroke="#5a5a5a" stroke-width="1"/>
<line x1="613.5" y1="563.2" x2="613.5" y2="568.4" stroke="#3a3a3a" stroke-width="1"/>
<line x1="613.5" y1="404.0" x2="613.5" y2="409.2" stroke="#3a3a3a" stroke-width="1"/>
<line x1="680.5" y1="563.2" x2="680.5" y2="568.4" stroke="#3a3a3a" stroke-width="1"/>
<line x1="680.5" y1="404.0" x2="680.5" y2="409.2" stroke="#3a3a3a" stroke-width="1"/>
<line x1="746.5" y1="563.2" x2="746.5" y2="568.4" stroke="#3a3a3a" stroke-width="1"/>
<line x1="746.5" y1="404.0" x2="746.5" y2="409.2" stroke="#3a3a3a" stroke-width="1"/>
<rect x="547.6" y="404.0" width="265.5" height="164.4" fill="none" stroke="#333" stroke-width="1"/>
<text x="521.82" y="409.10" font-size="27.04" fill="#2b2b2b">1</text>
<text x="502.01" y="441.98" font-size="27.04" fill="#2b2b2b">0.8</text>
<text x="501.81" y="474.86" font-size="27.04" fill="#2b2b2b">0.6</text>
<text x="501.41" y="507.74" font-size="27.04" fill="#2b2b2b">0.4</text>
<text x="502.49" y="540.62" font-size="27.04" fill="#2b2b2b">0.2</text>
<text x="522.29" y="573.50" font-size="27.04" fill="#2b2b2b">0</text>
<text x="541.04" y="593.00" font-size="27.04" fill="#2b2b2b">0</text>
<text x="597.58" y="593.00" font-size="27.04" fill="#2b2b2b">0.1</text>
<text x="663.90" y="593.00" font-size="27.04" fill="#2b2b2b">0.2</text>
<text x="730.07" y="593.00" font-size="27.04" fill="#2b2b2b">0.3</text>
<text x="796.12" y="593.00" font-size="27.04" fill="#2b2b2b">0.4</text>
<text transform="translate(617.32 615.00) scale(1.055 1.000)" font-size="26.29" fill="#2b2b2b">time</text>
<text transform="translate(674.15 615.00) scale(1.148 1.000)" font-size="26.82" font-style="italic" fill="#2b2b2b">t</text>
<text transform="translate(694.17 615.80) scale(0.924 1.000)" font-size="30.04" fill="#2b2b2b">(</text>
<text transform="translate(704.62 615.00) scale(0.976 1.000)" font-size="26.29" fill="#2b2b2b">ms</text>
<text transform="translate(735.94 615.80) scale(0.811 1.000)" font-size="30.04" fill="#2b2b2b">)</text>
<text transform="translate(420.18 398.30) scale(0.841 1.000)" font-size="31.40" fill="#2b2b2b">(</text>
<text transform="translate(429.16 397.80) scale(1.105 1.000)" font-size="27.00" fill="#2b2b2b">d</text>
<text transform="translate(444.89 398.30) scale(0.890 1.000)" font-size="31.40" fill="#2b2b2b">)</text>
<g transform="translate(477 0) rotate(-90)"><text transform="translate(-581.19 0.00) scale(1.096 1.000)" font-size="19.60" fill="#2b2b2b">Normalized quantities</text></g>
<text transform="translate(575.17 380.90) scale(0.995 1.000)" font-size="21.00" font-style="italic" fill="#2b2b2b">ξ</text><text transform="translate(585.11 373.30) scale(1.154 1.000)" font-size="14.00" fill="#2b2b2b">2</text><text transform="translate(584.95 386.70) scale(1.144 1.000)" font-size="14.40" fill="#2b2b2b">R</text>
<line x1="608.6" y1="375.6" x2="620.6" y2="375.6" stroke="#ff0000" stroke-width="1.7"/>
<text x="680.5" y="381.0" font-size="19.5" text-anchor="start" fill="#1c1c1c" font-family='"DejaVu Math TeX Gyre", "DejaVu Serif", serif' >𝒞</text>
<line x1="704.6" y1="375.6" x2="716.6" y2="375.6" stroke="#0000ff" stroke-width="1.7"/>
<text transform="translate(751.18 380.80) scale(0.856 1.000)" font-size="20.50" font-style="italic" fill="#2b2b2b">V</text><text transform="translate(763.69 383.50) scale(1.111 1.000)" font-size="13.80" fill="#2b2b2b">min</text>
<line x1="800.4" y1="375.6" x2="812.4" y2="375.6" stroke="#ffa500" stroke-width="1.7"/>
</svg>
</body></html>
